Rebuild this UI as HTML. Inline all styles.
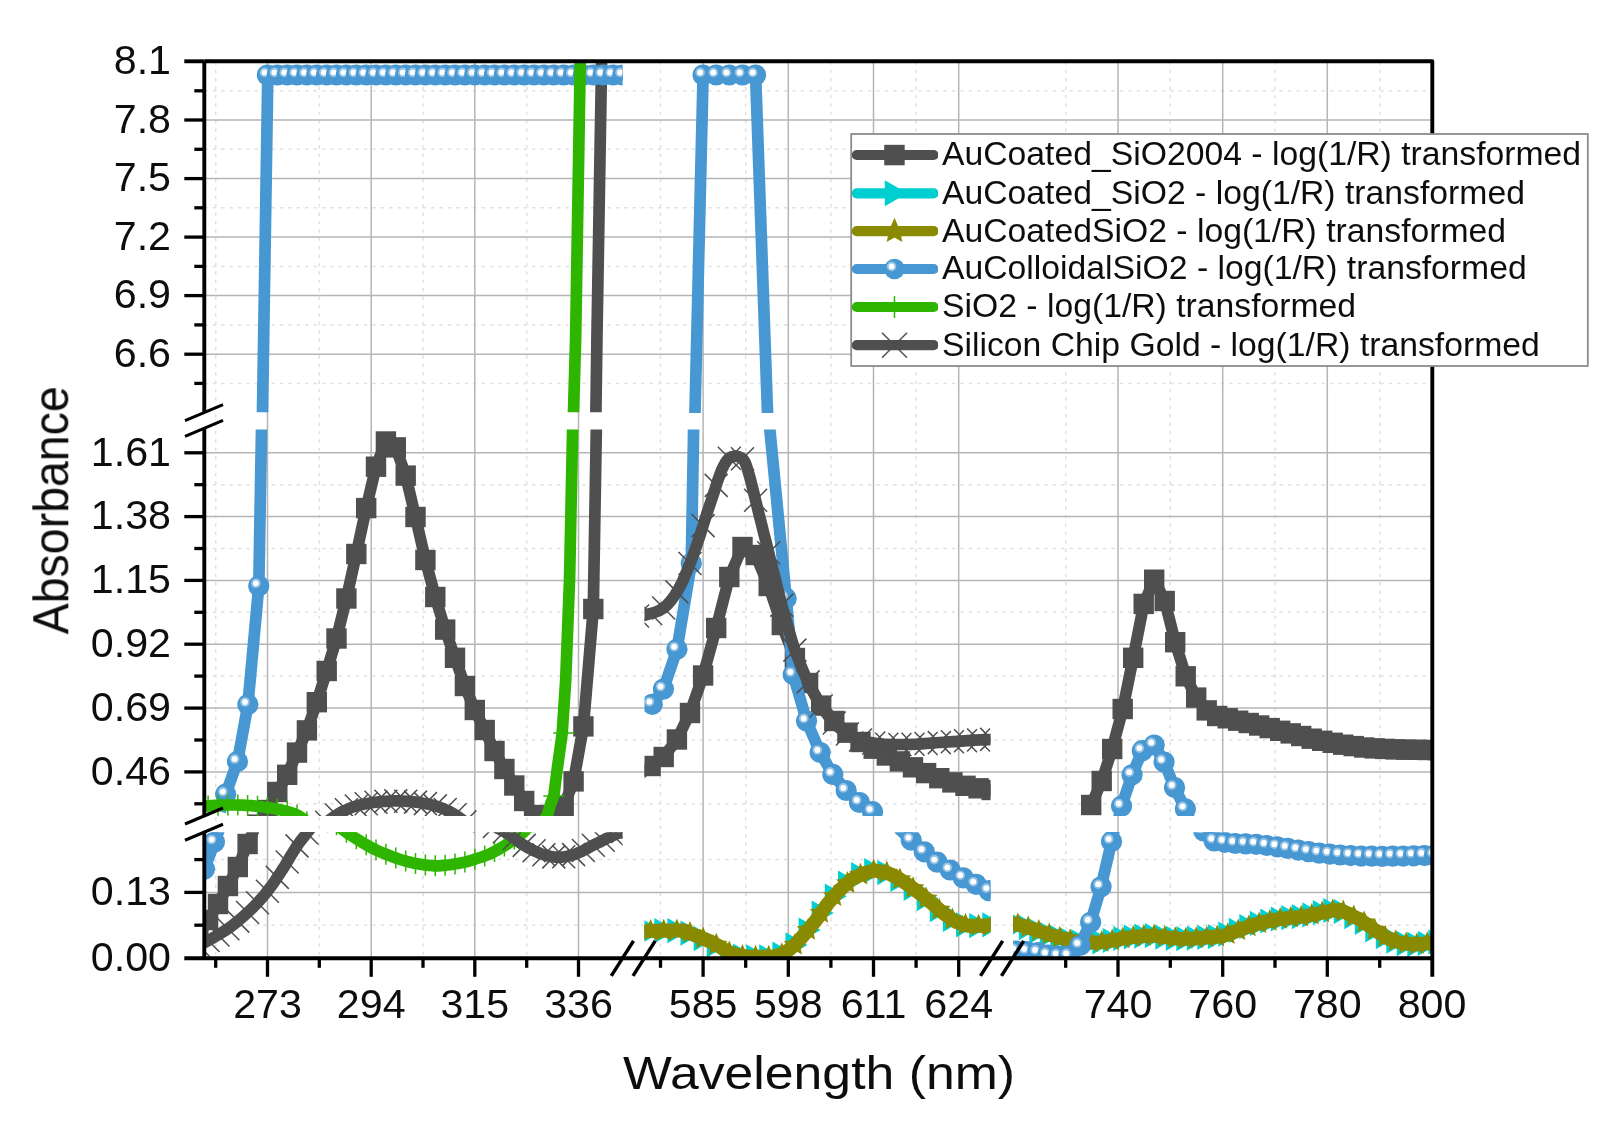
<!DOCTYPE html>
<html><head><meta charset="utf-8"><title>Absorbance vs Wavelength</title>
<style>html,body{margin:0;padding:0;background:#fff}svg{display:block}text{font-family:"Liberation Sans",Arial,sans-serif;fill:#111}</style>
</head><body>
<svg width="1620" height="1128" viewBox="0 0 1620 1128">
<rect width="1620" height="1128" fill="#fff"/>
<defs>
<clipPath id="c00"><rect x="205.5" y="63.0" width="417.1" height="349.3"/></clipPath>
<clipPath id="c01"><rect x="205.5" y="429.6" width="417.1" height="386.5"/></clipPath>
<clipPath id="c02"><rect x="205.5" y="832.2" width="417.1" height="124.8"/></clipPath>
<clipPath id="c10"><rect x="644.5" y="63.0" width="346.1" height="349.3"/></clipPath>
<clipPath id="c11"><rect x="644.5" y="429.6" width="346.1" height="386.5"/></clipPath>
<clipPath id="c12"><rect x="644.5" y="832.2" width="346.1" height="124.8"/></clipPath>
<clipPath id="c20"><rect x="1013.0" y="63.0" width="418" height="349.3"/></clipPath>
<clipPath id="c21"><rect x="1013.0" y="429.6" width="418" height="386.5"/></clipPath>
<clipPath id="c22"><rect x="1013.0" y="832.2" width="418" height="124.8"/></clipPath>
<filter id="bl" x="-5%" y="-5%" width="110%" height="110%"><feGaussianBlur stdDeviation="0.5"/></filter>
<filter id="gb" filterUnits="userSpaceOnUse" x="0" y="0" width="1620" height="1128"><feGaussianBlur stdDeviation="0.45"/></filter>
</defs>
<g filter="url(#gb)">
<g stroke="#e1e1e1" stroke-width="1.5" stroke-dasharray="3.4 5" fill="none">
<path d="M215.7 61.3V958.3"/>
<path d="M319.3 61.3V958.3"/>
<path d="M423 61.3V958.3"/>
<path d="M526.7 61.3V958.3"/>
<path d="M660.5 61.3V958.3"/>
<path d="M745.7 61.3V958.3"/>
<path d="M830.9 61.3V958.3"/>
<path d="M916.1 61.3V958.3"/>
<path d="M1065.7 61.3V958.3"/>
<path d="M1170.3 61.3V958.3"/>
<path d="M1275 61.3V958.3"/>
<path d="M1379.7 61.3V958.3"/>
<path d="M204.3 90.8H1432.3"/>
<path d="M204.3 149.3H1432.3"/>
<path d="M204.3 207.8H1432.3"/>
<path d="M204.3 266.4H1432.3"/>
<path d="M204.3 324.9H1432.3"/>
<path d="M204.3 383.4H1432.3"/>
<path d="M204.3 484.7H1432.3"/>
<path d="M204.3 548.5H1432.3"/>
<path d="M204.3 612.3H1432.3"/>
<path d="M204.3 676.1H1432.3"/>
<path d="M204.3 740H1432.3"/>
<path d="M204.3 803.8H1432.3"/>
<path d="M204.3 859.6H1432.3"/>
<path d="M204.3 925.2H1432.3"/>
</g>
<g stroke="#b5b5b5" stroke-width="1.5" fill="none">
<path d="M267.5 61.3V958.3"/>
<path d="M371.2 61.3V958.3"/>
<path d="M474.8 61.3V958.3"/>
<path d="M578.5 61.3V958.3"/>
<path d="M703.1 61.3V958.3"/>
<path d="M788.3 61.3V958.3"/>
<path d="M873.5 61.3V958.3"/>
<path d="M958.7 61.3V958.3"/>
<path d="M1118 61.3V958.3"/>
<path d="M1222.7 61.3V958.3"/>
<path d="M1327.3 61.3V958.3"/>
<path d="M204.3 120H1432.3"/>
<path d="M204.3 178.6H1432.3"/>
<path d="M204.3 237.1H1432.3"/>
<path d="M204.3 295.6H1432.3"/>
<path d="M204.3 354.2H1432.3"/>
<path d="M204.3 452.8H1432.3"/>
<path d="M204.3 516.6H1432.3"/>
<path d="M204.3 580.4H1432.3"/>
<path d="M204.3 644.2H1432.3"/>
<path d="M204.3 708.1H1432.3"/>
<path d="M204.3 771.9H1432.3"/>
<path d="M204.3 892.4H1432.3"/>
</g>
<g filter="url(#bl)">
<g clip-path="url(#c02)"><polyline points="198.3,936 208.1,920 218,904 227.9,886 237.8,867 247.6,844 257.5,821.8" fill="none" stroke="#4f4f4f" stroke-width="11.7" stroke-linejoin="round" /><rect x="188.1" y="925.8" width="20.4" height="20.4" fill="#4f4f4f"/><rect x="197.9" y="909.8" width="20.4" height="20.4" fill="#4f4f4f"/><rect x="207.8" y="893.8" width="20.4" height="20.4" fill="#4f4f4f"/><rect x="217.7" y="875.8" width="20.4" height="20.4" fill="#4f4f4f"/><rect x="227.6" y="856.8" width="20.4" height="20.4" fill="#4f4f4f"/><rect x="237.4" y="833.8" width="20.4" height="20.4" fill="#4f4f4f"/><rect x="247.3" y="811.6" width="20.4" height="20.4" fill="#4f4f4f"/></g>
<g clip-path="url(#c01)"><polyline points="257.5,824.6 267.4,810 277.3,792 287.2,774.8 297,752.6 306.9,730.4 316.8,702.2 326.7,671 336.5,638.5 346.4,598.5 356.3,554 366.2,508.1 376,466.7 385.9,441.5 395.8,447.4 405.7,475.6 415.5,517 425.4,560 435.3,597 445.2,629.6 455,657.8 464.9,686 474.8,710 484.7,730 494.5,751 504.4,769 514.3,785.5 524.2,801 534.1,815 543.9,822 553.8,818 563.7,806 573.6,781.4 583.4,726.4 593.3,609 596.3,430 596.8,405" fill="none" stroke="#4f4f4f" stroke-width="11.7" stroke-linejoin="round" /><rect x="247.3" y="814.4" width="20.4" height="20.4" fill="#4f4f4f"/><rect x="257.2" y="799.8" width="20.4" height="20.4" fill="#4f4f4f"/><rect x="267.1" y="781.8" width="20.4" height="20.4" fill="#4f4f4f"/><rect x="277" y="764.6" width="20.4" height="20.4" fill="#4f4f4f"/><rect x="286.8" y="742.4" width="20.4" height="20.4" fill="#4f4f4f"/><rect x="296.7" y="720.2" width="20.4" height="20.4" fill="#4f4f4f"/><rect x="306.6" y="692" width="20.4" height="20.4" fill="#4f4f4f"/><rect x="316.5" y="660.8" width="20.4" height="20.4" fill="#4f4f4f"/><rect x="326.3" y="628.3" width="20.4" height="20.4" fill="#4f4f4f"/><rect x="336.2" y="588.3" width="20.4" height="20.4" fill="#4f4f4f"/><rect x="346.1" y="543.8" width="20.4" height="20.4" fill="#4f4f4f"/><rect x="356" y="497.9" width="20.4" height="20.4" fill="#4f4f4f"/><rect x="365.8" y="456.5" width="20.4" height="20.4" fill="#4f4f4f"/><rect x="375.7" y="431.3" width="20.4" height="20.4" fill="#4f4f4f"/><rect x="385.6" y="437.2" width="20.4" height="20.4" fill="#4f4f4f"/><rect x="395.5" y="465.4" width="20.4" height="20.4" fill="#4f4f4f"/><rect x="405.3" y="506.8" width="20.4" height="20.4" fill="#4f4f4f"/><rect x="415.2" y="549.8" width="20.4" height="20.4" fill="#4f4f4f"/><rect x="425.1" y="586.8" width="20.4" height="20.4" fill="#4f4f4f"/><rect x="435" y="619.4" width="20.4" height="20.4" fill="#4f4f4f"/><rect x="444.8" y="647.6" width="20.4" height="20.4" fill="#4f4f4f"/><rect x="454.7" y="675.8" width="20.4" height="20.4" fill="#4f4f4f"/><rect x="464.6" y="699.8" width="20.4" height="20.4" fill="#4f4f4f"/><rect x="474.5" y="719.8" width="20.4" height="20.4" fill="#4f4f4f"/><rect x="484.3" y="740.8" width="20.4" height="20.4" fill="#4f4f4f"/><rect x="494.2" y="758.8" width="20.4" height="20.4" fill="#4f4f4f"/><rect x="504.1" y="775.3" width="20.4" height="20.4" fill="#4f4f4f"/><rect x="514" y="790.8" width="20.4" height="20.4" fill="#4f4f4f"/><rect x="523.9" y="804.8" width="20.4" height="20.4" fill="#4f4f4f"/><rect x="533.7" y="811.8" width="20.4" height="20.4" fill="#4f4f4f"/><rect x="543.6" y="807.8" width="20.4" height="20.4" fill="#4f4f4f"/><rect x="553.5" y="795.8" width="20.4" height="20.4" fill="#4f4f4f"/><rect x="563.4" y="771.2" width="20.4" height="20.4" fill="#4f4f4f"/><rect x="573.2" y="716.2" width="20.4" height="20.4" fill="#4f4f4f"/><rect x="583.1" y="598.8" width="20.4" height="20.4" fill="#4f4f4f"/></g>
<g clip-path="url(#c00)"><polyline points="595.6,435 595.9,412 596.9,340 601.2,84.4 601.7,50" fill="none" stroke="#4f4f4f" stroke-width="11.7" stroke-linejoin="round" /></g>
<g clip-path="url(#c11)"><polyline points="637.5,776 650.6,766 663.7,757 676.9,739.5 690,713 703.1,675.5 716.2,628 729.3,577 742.5,547 755.6,555 768.7,586 781.8,625 794.9,658 808.1,683 821.2,705.6 834.3,721 847.4,732.7 860.5,742 873.7,748.7 886.8,755.5 899.9,761.4 913,767.3 926.1,773.1 939.3,778.2 952.4,782.4 965.5,785.8 978.6,788.3 991.7,790 1004.9,791.5" fill="none" stroke="#4f4f4f" stroke-width="11.7" stroke-linejoin="round" /><rect x="640.4" y="755.8" width="20.4" height="20.4" fill="#4f4f4f"/><rect x="653.5" y="746.8" width="20.4" height="20.4" fill="#4f4f4f"/><rect x="666.7" y="729.3" width="20.4" height="20.4" fill="#4f4f4f"/><rect x="679.8" y="702.8" width="20.4" height="20.4" fill="#4f4f4f"/><rect x="692.9" y="665.3" width="20.4" height="20.4" fill="#4f4f4f"/><rect x="706" y="617.8" width="20.4" height="20.4" fill="#4f4f4f"/><rect x="719.1" y="566.8" width="20.4" height="20.4" fill="#4f4f4f"/><rect x="732.3" y="536.8" width="20.4" height="20.4" fill="#4f4f4f"/><rect x="745.4" y="544.8" width="20.4" height="20.4" fill="#4f4f4f"/><rect x="758.5" y="575.8" width="20.4" height="20.4" fill="#4f4f4f"/><rect x="771.6" y="614.8" width="20.4" height="20.4" fill="#4f4f4f"/><rect x="784.7" y="647.8" width="20.4" height="20.4" fill="#4f4f4f"/><rect x="797.9" y="672.8" width="20.4" height="20.4" fill="#4f4f4f"/><rect x="811" y="695.4" width="20.4" height="20.4" fill="#4f4f4f"/><rect x="824.1" y="710.8" width="20.4" height="20.4" fill="#4f4f4f"/><rect x="837.2" y="722.5" width="20.4" height="20.4" fill="#4f4f4f"/><rect x="850.3" y="731.8" width="20.4" height="20.4" fill="#4f4f4f"/><rect x="863.5" y="738.5" width="20.4" height="20.4" fill="#4f4f4f"/><rect x="876.6" y="745.3" width="20.4" height="20.4" fill="#4f4f4f"/><rect x="889.7" y="751.2" width="20.4" height="20.4" fill="#4f4f4f"/><rect x="902.8" y="757.1" width="20.4" height="20.4" fill="#4f4f4f"/><rect x="915.9" y="762.9" width="20.4" height="20.4" fill="#4f4f4f"/><rect x="929.1" y="768" width="20.4" height="20.4" fill="#4f4f4f"/><rect x="942.2" y="772.2" width="20.4" height="20.4" fill="#4f4f4f"/><rect x="955.3" y="775.6" width="20.4" height="20.4" fill="#4f4f4f"/><rect x="968.4" y="778.1" width="20.4" height="20.4" fill="#4f4f4f"/><rect x="981.5" y="779.8" width="20.4" height="20.4" fill="#4f4f4f"/><rect x="994.7" y="781.3" width="20.4" height="20.4" fill="#4f4f4f"/></g>
<g clip-path="url(#c21)"><polyline points="1091.2,805 1101.8,781 1112.2,749 1122.8,709 1133.2,657.8 1143.8,603.9 1154.2,579.7 1164.8,601 1175.2,642.2 1185.8,676.3 1196.2,697.6 1206.8,710.4 1217.2,716 1227.8,718.3 1238.2,720.7 1248.8,723 1259.2,725.5 1269.8,728.1 1280.2,730.8 1290.8,733.4 1301.2,736 1311.8,738.7 1322.2,740.8 1332.8,742.8 1343.2,744.7 1353.8,746.1 1364.2,747.5 1374.8,748.4 1385.2,748.9 1395.8,749.4 1406.2,749.7 1416.8,749.8 1427.2,750 1437.8,750.1" fill="none" stroke="#4f4f4f" stroke-width="11.7" stroke-linejoin="round" /><rect x="1081" y="794.8" width="20.4" height="20.4" fill="#4f4f4f"/><rect x="1091.5" y="770.8" width="20.4" height="20.4" fill="#4f4f4f"/><rect x="1102" y="738.8" width="20.4" height="20.4" fill="#4f4f4f"/><rect x="1112.5" y="698.8" width="20.4" height="20.4" fill="#4f4f4f"/><rect x="1123" y="647.6" width="20.4" height="20.4" fill="#4f4f4f"/><rect x="1133.5" y="593.7" width="20.4" height="20.4" fill="#4f4f4f"/><rect x="1144" y="569.5" width="20.4" height="20.4" fill="#4f4f4f"/><rect x="1154.5" y="590.8" width="20.4" height="20.4" fill="#4f4f4f"/><rect x="1165" y="632" width="20.4" height="20.4" fill="#4f4f4f"/><rect x="1175.5" y="666.1" width="20.4" height="20.4" fill="#4f4f4f"/><rect x="1186" y="687.4" width="20.4" height="20.4" fill="#4f4f4f"/><rect x="1196.5" y="700.2" width="20.4" height="20.4" fill="#4f4f4f"/><rect x="1207" y="705.8" width="20.4" height="20.4" fill="#4f4f4f"/><rect x="1217.5" y="708.1" width="20.4" height="20.4" fill="#4f4f4f"/><rect x="1228" y="710.5" width="20.4" height="20.4" fill="#4f4f4f"/><rect x="1238.5" y="712.8" width="20.4" height="20.4" fill="#4f4f4f"/><rect x="1249" y="715.3" width="20.4" height="20.4" fill="#4f4f4f"/><rect x="1259.5" y="717.9" width="20.4" height="20.4" fill="#4f4f4f"/><rect x="1270" y="720.6" width="20.4" height="20.4" fill="#4f4f4f"/><rect x="1280.5" y="723.2" width="20.4" height="20.4" fill="#4f4f4f"/><rect x="1291" y="725.8" width="20.4" height="20.4" fill="#4f4f4f"/><rect x="1301.5" y="728.5" width="20.4" height="20.4" fill="#4f4f4f"/><rect x="1312" y="730.6" width="20.4" height="20.4" fill="#4f4f4f"/><rect x="1322.5" y="732.6" width="20.4" height="20.4" fill="#4f4f4f"/><rect x="1333" y="734.5" width="20.4" height="20.4" fill="#4f4f4f"/><rect x="1343.5" y="735.9" width="20.4" height="20.4" fill="#4f4f4f"/><rect x="1354" y="737.3" width="20.4" height="20.4" fill="#4f4f4f"/><rect x="1364.5" y="738.2" width="20.4" height="20.4" fill="#4f4f4f"/><rect x="1375" y="738.7" width="20.4" height="20.4" fill="#4f4f4f"/><rect x="1385.5" y="739.2" width="20.4" height="20.4" fill="#4f4f4f"/><rect x="1396" y="739.5" width="20.4" height="20.4" fill="#4f4f4f"/><rect x="1406.5" y="739.6" width="20.4" height="20.4" fill="#4f4f4f"/><rect x="1417" y="739.8" width="20.4" height="20.4" fill="#4f4f4f"/><rect x="1427.5" y="739.9" width="20.4" height="20.4" fill="#4f4f4f"/></g>
<g clip-path="url(#c12)"><polyline points="637,931.3 645.6,931.1 667.8,930.6 684.4,930.6 695.6,935.6 706.7,940 717.8,945.6 728.9,952.3 740,955.8 751,956.8 773,956.8 784.4,953.4 795.6,944.4 806.7,931.7 815.9,920.4 827.6,903.9 839.3,890.5 851,879.9 862.8,873.5 874.5,870.5 886.2,872.3 898,878.1 909.7,885.8 921.4,894.6 933.2,904.5 944.9,914.5 956.6,922.1 968.3,925.7 980,925.7 990.6,925 1000,924.5" fill="none" stroke="#00cfd2" stroke-width="11.7" stroke-linejoin="round" /><path d="M628 918.7L650.1 931.3L628 943.9Z" fill="#00cfd2"/><path d="M641.2 918.4L663.2 931L641.2 943.6Z" fill="#00cfd2"/><path d="M654.3 918.1L676.3 930.7L654.3 943.3Z" fill="#00cfd2"/><path d="M667.4 918L689.5 930.6L667.4 943.2Z" fill="#00cfd2"/><path d="M680.5 920.5L702.6 933.1L680.5 945.7Z" fill="#00cfd2"/><path d="M693.6 926L715.7 938.6L693.6 951.2Z" fill="#00cfd2"/><path d="M706.8 932.2L728.8 944.8L706.8 957.4Z" fill="#00cfd2"/><path d="M719.9 939.8L741.9 952.4L719.9 965Z" fill="#00cfd2"/><path d="M733 943.4L755.1 956L733 968.6Z" fill="#00cfd2"/><path d="M746.1 944.2L768.2 956.8L746.1 969.4Z" fill="#00cfd2"/><path d="M759.2 944.2L781.3 956.8L759.2 969.4Z" fill="#00cfd2"/><path d="M772.4 941.6L794.4 954.2L772.4 966.8Z" fill="#00cfd2"/><path d="M785.5 932.3L807.5 944.9L785.5 957.5Z" fill="#00cfd2"/><path d="M798.6 917.4L820.7 930L798.6 942.6Z" fill="#00cfd2"/><path d="M811.7 900.4L833.8 913L811.7 925.6Z" fill="#00cfd2"/><path d="M824.8 883.6L846.9 896.2L824.8 908.8Z" fill="#00cfd2"/><path d="M838 870.5L860 883.1L838 895.7Z" fill="#00cfd2"/><path d="M851.1 862.1L873.1 874.7L851.1 887.3Z" fill="#00cfd2"/><path d="M864.2 858.1L886.3 870.7L864.2 883.3Z" fill="#00cfd2"/><path d="M877.3 860L899.4 872.6L877.3 885.2Z" fill="#00cfd2"/><path d="M890.4 866.8L912.5 879.4L890.4 892Z" fill="#00cfd2"/><path d="M903.6 875.7L925.6 888.3L903.6 900.9Z" fill="#00cfd2"/><path d="M916.7 886L938.7 898.6L916.7 911.2Z" fill="#00cfd2"/><path d="M929.8 897.1L951.9 909.7L929.8 922.3Z" fill="#00cfd2"/><path d="M942.9 906.8L965 919.4L942.9 932Z" fill="#00cfd2"/><path d="M956 912.2L978.1 924.8L956 937.4Z" fill="#00cfd2"/><path d="M969.2 913.1L991.2 925.7L969.2 938.3Z" fill="#00cfd2"/><path d="M982.3 912.3L1004.3 924.9L982.3 937.5Z" fill="#00cfd2"/><path d="M995.4 911.6L1017.5 924.2L995.4 936.8Z" fill="#00cfd2"/></g>
<g clip-path="url(#c12)"><polyline points="637,931.3 645.6,931.1 667.8,930.6 684.4,930.6 695.6,935.6 706.7,940 717.8,945.6 728.9,952.3 740,955.8 751,956.8 773,956.8 784.4,953.4 795.6,944.4 806.7,931.7 815.9,920.4 827.6,903.9 839.3,890.5 851,879.9 862.8,873.5 874.5,870.5 886.2,872.3 898,878.1 909.7,885.8 921.4,894.6 933.2,904.5 944.9,914.5 956.6,922.1 968.3,925.7 980,925.7 990.6,925 1000,924.5" fill="none" stroke="#8a8a00" stroke-width="14" stroke-linejoin="round" /><polygon points="637.5,919.3 640.7,926.8 648.9,927.6 642.7,933 644.6,941 637.5,936.8 630.4,941 632.3,933 626.1,927.6 634.3,926.8" fill="#8a8a00"/><polygon points="650.6,919 653.9,926.5 662,927.3 655.9,932.7 657.7,940.7 650.6,936.5 643.6,940.7 645.4,932.7 639.2,927.3 647.4,926.5" fill="#8a8a00"/><polygon points="663.7,918.7 667,926.2 675.2,927 669,932.4 670.8,940.4 663.7,936.2 656.7,940.4 658.5,932.4 652.3,927 660.5,926.2" fill="#8a8a00"/><polygon points="676.9,918.6 680.1,926.1 688.3,926.9 682.1,932.3 683.9,940.3 676.9,936.1 669.8,940.3 671.6,932.3 665.4,926.9 673.6,926.1" fill="#8a8a00"/><polygon points="690,921.1 693.2,928.6 701.4,929.4 695.2,934.8 697,942.8 690,938.6 682.9,942.8 684.7,934.8 678.6,929.4 686.7,928.6" fill="#8a8a00"/><polygon points="703.1,926.6 706.3,934.1 714.5,934.9 708.3,940.3 710.2,948.3 703.1,944.1 696,948.3 697.9,940.3 691.7,934.9 699.9,934.1" fill="#8a8a00"/><polygon points="716.2,932.8 719.5,940.3 727.6,941.1 721.5,946.5 723.3,954.5 716.2,950.3 709.2,954.5 711,946.5 704.8,941.1 713,940.3" fill="#8a8a00"/><polygon points="729.3,940.4 732.6,948 740.8,948.7 734.6,954.1 736.4,962.1 729.3,958 722.3,962.1 724.1,954.1 717.9,948.7 726.1,948" fill="#8a8a00"/><polygon points="742.5,944 745.7,951.6 753.9,952.3 747.7,957.7 749.5,965.7 742.5,961.5 735.4,965.7 737.2,957.7 731,952.3 739.2,951.6" fill="#8a8a00"/><polygon points="755.6,944.8 758.8,952.3 767,953.1 760.8,958.5 762.6,966.5 755.6,962.3 748.5,966.5 750.3,958.5 744.2,953.1 752.3,952.3" fill="#8a8a00"/><polygon points="768.7,944.8 771.9,952.3 780.1,953.1 773.9,958.5 775.8,966.5 768.7,962.3 761.6,966.5 763.5,958.5 757.3,953.1 765.5,952.3" fill="#8a8a00"/><polygon points="781.8,942.2 785.1,949.7 793.2,950.5 787.1,955.9 788.9,963.9 781.8,959.7 774.8,963.9 776.6,955.9 770.4,950.5 778.6,949.7" fill="#8a8a00"/><polygon points="794.9,932.9 798.2,940.5 806.4,941.2 800.2,946.6 802,954.6 794.9,950.5 787.9,954.6 789.7,946.6 783.5,941.2 791.7,940.5" fill="#8a8a00"/><polygon points="808.1,918 811.3,925.6 819.5,926.3 813.3,931.7 815.1,939.7 808.1,935.5 801,939.7 802.8,931.7 796.6,926.3 804.8,925.6" fill="#8a8a00"/><polygon points="821.2,901 824.4,908.5 832.6,909.2 826.4,914.7 828.2,922.7 821.2,918.5 814.1,922.7 815.9,914.7 809.8,909.2 817.9,908.5" fill="#8a8a00"/><polygon points="834.3,884.2 837.5,891.8 845.7,892.5 839.5,897.9 841.4,905.9 834.3,901.7 827.2,905.9 829.1,897.9 822.9,892.5 831.1,891.8" fill="#8a8a00"/><polygon points="847.4,871.1 850.7,878.7 858.8,879.4 852.7,884.8 854.5,892.9 847.4,888.7 840.4,892.9 842.2,884.8 836,879.4 844.2,878.7" fill="#8a8a00"/><polygon points="860.5,862.7 863.8,870.3 872,871 865.8,876.4 867.6,884.4 860.5,880.2 853.5,884.4 855.3,876.4 849.1,871 857.3,870.3" fill="#8a8a00"/><polygon points="873.7,858.7 876.9,866.2 885.1,867 878.9,872.4 880.7,880.4 873.7,876.2 866.6,880.4 868.4,872.4 862.2,867 870.4,866.2" fill="#8a8a00"/><polygon points="886.8,860.6 890,868.1 898.2,868.9 892,874.3 893.8,882.3 886.8,878.1 879.7,882.3 881.5,874.3 875.4,868.9 883.5,868.1" fill="#8a8a00"/><polygon points="899.9,867.4 903.1,874.9 911.3,875.6 905.1,881.1 907,889.1 899.9,884.9 892.8,889.1 894.7,881.1 888.5,875.6 896.7,874.9" fill="#8a8a00"/><polygon points="913,876.3 916.3,883.8 924.4,884.6 918.3,890 920.1,898 913,893.8 906,898 907.8,890 901.6,884.6 909.8,883.8" fill="#8a8a00"/><polygon points="926.1,886.6 929.4,894.1 937.6,894.9 931.4,900.3 933.2,908.3 926.1,904.1 919.1,908.3 920.9,900.3 914.7,894.9 922.9,894.1" fill="#8a8a00"/><polygon points="939.3,897.7 942.5,905.2 950.7,906 944.5,911.4 946.3,919.4 939.3,915.2 932.2,919.4 934,911.4 927.8,906 936,905.2" fill="#8a8a00"/><polygon points="952.4,907.4 955.6,914.9 963.8,915.7 957.6,921.1 959.4,929.1 952.4,924.9 945.3,929.1 947.1,921.1 941,915.7 949.1,914.9" fill="#8a8a00"/><polygon points="965.5,912.8 968.7,920.4 976.9,921.1 970.7,926.5 972.6,934.5 965.5,930.4 958.4,934.5 960.3,926.5 954.1,921.1 962.3,920.4" fill="#8a8a00"/><polygon points="978.6,913.7 981.9,921.2 990,922 983.9,927.4 985.7,935.4 978.6,931.2 971.6,935.4 973.4,927.4 967.2,922 975.4,921.2" fill="#8a8a00"/><polygon points="991.7,912.9 995,920.5 1003.2,921.2 997,926.6 998.8,934.6 991.7,930.5 984.7,934.6 986.5,926.6 980.3,921.2 988.5,920.5" fill="#8a8a00"/><polygon points="1004.9,912.2 1008.1,919.8 1016.3,920.5 1010.1,925.9 1011.9,933.9 1004.9,929.8 997.8,933.9 999.6,925.9 993.4,920.5 1001.6,919.8" fill="#8a8a00"/></g>
<g clip-path="url(#c22)"><polyline points="1003,921 1015.9,924 1032.2,928.8 1045.7,933.5 1059.3,937.6 1070.2,940.3 1085,942.5 1100,942.3 1113.6,940.3 1127.2,937.6 1140.8,936.2 1154.4,935.6 1168,937.6 1181.5,938.9 1195.1,938.3 1208.7,937.2 1221.9,936.3 1235.8,931.3 1249.7,926.1 1263.6,922.2 1277.5,919.4 1291.4,917.6 1305.3,916.4 1319.2,913.2 1333.1,910.4 1340,910 1347,913.2 1360.8,920.1 1374.7,929.9 1388.6,938.9 1402.5,943.3 1416.4,944.4 1427.5,943.3 1445,941" fill="none" stroke="#00cfd2" stroke-width="11.7" stroke-linejoin="round" /><path d="M997.8 909.4L1019.9 922L997.8 934.6Z" fill="#00cfd2"/><path d="M1008.3 911.9L1030.3 924.5L1008.3 937.1Z" fill="#00cfd2"/><path d="M1018.8 915L1040.8 927.6L1018.8 940.2Z" fill="#00cfd2"/><path d="M1029.3 918.5L1051.3 931.1L1029.3 943.7Z" fill="#00cfd2"/><path d="M1039.8 922L1061.8 934.6L1039.8 947.2Z" fill="#00cfd2"/><path d="M1050.3 925.1L1072.3 937.7L1050.3 950.3Z" fill="#00cfd2"/><path d="M1060.8 927.7L1082.8 940.3L1060.8 952.9Z" fill="#00cfd2"/><path d="M1071.3 929.3L1093.3 941.9L1071.3 954.5Z" fill="#00cfd2"/><path d="M1081.8 929.8L1103.8 942.4L1081.8 955Z" fill="#00cfd2"/><path d="M1092.3 929.4L1114.3 942L1092.3 954.6Z" fill="#00cfd2"/><path d="M1102.8 927.9L1124.8 940.5L1102.8 953.1Z" fill="#00cfd2"/><path d="M1113.3 925.9L1135.3 938.5L1113.3 951.1Z" fill="#00cfd2"/><path d="M1123.8 924.4L1145.8 937L1123.8 949.6Z" fill="#00cfd2"/><path d="M1134.3 923.5L1156.3 936.1L1134.3 948.7Z" fill="#00cfd2"/><path d="M1144.8 923L1166.8 935.6L1144.8 948.2Z" fill="#00cfd2"/><path d="M1155.3 924.5L1177.3 937.1L1155.3 949.7Z" fill="#00cfd2"/><path d="M1165.8 925.7L1187.8 938.3L1165.8 950.9Z" fill="#00cfd2"/><path d="M1176.3 926.1L1198.3 938.7L1176.3 951.3Z" fill="#00cfd2"/><path d="M1186.8 925.6L1208.8 938.2L1186.8 950.8Z" fill="#00cfd2"/><path d="M1197.3 924.8L1219.3 937.4L1197.3 950Z" fill="#00cfd2"/><path d="M1207.8 924L1229.8 936.6L1207.8 949.2Z" fill="#00cfd2"/><path d="M1218.3 921.6L1240.3 934.2L1218.3 946.8Z" fill="#00cfd2"/><path d="M1228.8 917.8L1250.8 930.4L1228.8 943Z" fill="#00cfd2"/><path d="M1239.3 913.9L1261.3 926.5L1239.3 939.1Z" fill="#00cfd2"/><path d="M1249.8 910.8L1271.8 923.4L1249.8 936Z" fill="#00cfd2"/><path d="M1260.3 908.4L1282.3 921L1260.3 933.6Z" fill="#00cfd2"/><path d="M1270.8 906.4L1292.8 919L1270.8 931.6Z" fill="#00cfd2"/><path d="M1281.3 905.1L1303.3 917.7L1281.3 930.3Z" fill="#00cfd2"/><path d="M1291.8 904.1L1313.8 916.7L1291.8 929.3Z" fill="#00cfd2"/><path d="M1302.3 902.3L1324.3 914.9L1302.3 927.5Z" fill="#00cfd2"/><path d="M1312.8 900L1334.8 912.6L1312.8 925.2Z" fill="#00cfd2"/><path d="M1323.3 897.9L1345.3 910.5L1323.3 923.1Z" fill="#00cfd2"/><path d="M1333.8 898.9L1355.8 911.5L1333.8 924.1Z" fill="#00cfd2"/><path d="M1344.3 904L1366.3 916.6L1344.3 929.2Z" fill="#00cfd2"/><path d="M1354.8 909.9L1376.8 922.5L1354.8 935.1Z" fill="#00cfd2"/><path d="M1365.3 917.3L1387.3 929.9L1365.3 942.5Z" fill="#00cfd2"/><path d="M1375.8 924.1L1397.8 936.7L1375.8 949.3Z" fill="#00cfd2"/><path d="M1386.3 928.6L1408.3 941.2L1386.3 953.8Z" fill="#00cfd2"/><path d="M1396.8 931L1418.8 943.6L1396.8 956.2Z" fill="#00cfd2"/><path d="M1407.3 931.8L1429.3 944.4L1407.3 957Z" fill="#00cfd2"/><path d="M1417.8 930.7L1439.8 943.3L1417.8 955.9Z" fill="#00cfd2"/><path d="M1428.3 929.4L1450.3 942L1428.3 954.6Z" fill="#00cfd2"/></g>
<g clip-path="url(#c22)"><polyline points="1003,921 1015.9,924 1032.2,928.8 1045.7,933.5 1059.3,937.6 1070.2,940.3 1085,942.5 1100,942.3 1113.6,940.3 1127.2,937.6 1140.8,936.2 1154.4,935.6 1168,937.6 1181.5,938.9 1195.1,938.3 1208.7,937.2 1221.9,936.3 1235.8,931.3 1249.7,926.1 1263.6,922.2 1277.5,919.4 1291.4,917.6 1305.3,916.4 1319.2,913.2 1333.1,910.4 1340,910 1347,913.2 1360.8,920.1 1374.7,929.9 1388.6,938.9 1402.5,943.3 1416.4,944.4 1427.5,943.3 1445,941" fill="none" stroke="#8a8a00" stroke-width="14" stroke-linejoin="round" /><polygon points="1007.2,910 1010.5,917.5 1018.7,918.3 1012.5,923.7 1014.3,931.7 1007.2,927.5 1000.2,931.7 1002,923.7 995.8,918.3 1004,917.5" fill="#8a8a00"/><polygon points="1017.8,912.5 1021,920.1 1029.2,920.8 1023,926.3 1024.8,934.3 1017.8,930.1 1010.7,934.3 1012.5,926.3 1006.3,920.8 1014.5,920.1" fill="#8a8a00"/><polygon points="1028.2,915.6 1031.5,923.2 1039.7,923.9 1033.5,929.3 1035.3,937.3 1028.2,933.2 1021.2,937.3 1023,929.3 1016.8,923.9 1025,923.2" fill="#8a8a00"/><polygon points="1038.8,919.1 1042,926.6 1050.2,927.4 1044,932.8 1045.8,940.8 1038.8,936.6 1031.7,940.8 1033.5,932.8 1027.3,927.4 1035.5,926.6" fill="#8a8a00"/><polygon points="1049.2,922.6 1052.5,930.1 1060.7,930.9 1054.5,936.3 1056.3,944.3 1049.2,940.1 1042.2,944.3 1044,936.3 1037.8,930.9 1046,930.1" fill="#8a8a00"/><polygon points="1059.8,925.7 1063,933.2 1071.2,934 1065,939.4 1066.8,947.4 1059.8,943.2 1052.7,947.4 1054.5,939.4 1048.3,934 1056.5,933.2" fill="#8a8a00"/><polygon points="1070.2,928.3 1073.5,935.8 1081.7,936.6 1075.5,942 1077.3,950 1070.2,945.8 1063.2,950 1065,942 1058.8,936.6 1067,935.8" fill="#8a8a00"/><polygon points="1080.8,929.9 1084,937.4 1092.2,938.2 1086,943.6 1087.8,951.6 1080.8,947.4 1073.7,951.6 1075.5,943.6 1069.3,938.2 1077.5,937.4" fill="#8a8a00"/><polygon points="1091.2,930.4 1094.5,938 1102.7,938.7 1096.5,944.1 1098.3,952.1 1091.2,947.9 1084.2,952.1 1086,944.1 1079.8,938.7 1088,938" fill="#8a8a00"/><polygon points="1101.8,930 1105,937.6 1113.2,938.3 1107,943.7 1108.8,951.8 1101.8,947.6 1094.7,951.8 1096.5,943.7 1090.3,938.3 1098.5,937.6" fill="#8a8a00"/><polygon points="1112.2,928.5 1115.5,936 1123.7,936.8 1117.5,942.2 1119.3,950.2 1112.2,946 1105.2,950.2 1107,942.2 1100.8,936.8 1109,936" fill="#8a8a00"/><polygon points="1122.8,926.5 1126,934 1134.2,934.8 1128,940.2 1129.8,948.2 1122.8,944 1115.7,948.2 1117.5,940.2 1111.3,934.8 1119.5,934" fill="#8a8a00"/><polygon points="1133.2,925 1136.5,932.5 1144.7,933.3 1138.5,938.7 1140.3,946.7 1133.2,942.5 1126.2,946.7 1128,938.7 1121.8,933.3 1130,932.5" fill="#8a8a00"/><polygon points="1143.8,924.1 1147,931.6 1155.2,932.4 1149,937.8 1150.8,945.8 1143.8,941.6 1136.7,945.8 1138.5,937.8 1132.3,932.4 1140.5,931.6" fill="#8a8a00"/><polygon points="1154.2,923.6 1157.5,931.1 1165.7,931.9 1159.5,937.3 1161.3,945.3 1154.2,941.1 1147.2,945.3 1149,937.3 1142.8,931.9 1151,931.1" fill="#8a8a00"/><polygon points="1164.8,925.1 1168,932.7 1176.2,933.4 1170,938.8 1171.8,946.8 1164.8,942.6 1157.7,946.8 1159.5,938.8 1153.3,933.4 1161.5,932.7" fill="#8a8a00"/><polygon points="1175.2,926.3 1178.5,933.8 1186.7,934.6 1180.5,940 1182.3,948 1175.2,943.8 1168.2,948 1170,940 1163.8,934.6 1172,933.8" fill="#8a8a00"/><polygon points="1185.8,926.7 1189,934.2 1197.2,935 1191,940.4 1192.8,948.4 1185.8,944.2 1178.7,948.4 1180.5,940.4 1174.3,935 1182.5,934.2" fill="#8a8a00"/><polygon points="1196.2,926.2 1199.5,933.7 1207.7,934.5 1201.5,939.9 1203.3,947.9 1196.2,943.7 1189.2,947.9 1191,939.9 1184.8,934.5 1193,933.7" fill="#8a8a00"/><polygon points="1206.8,925.4 1210,932.9 1218.2,933.6 1212,939.1 1213.8,947.1 1206.8,942.9 1199.7,947.1 1201.5,939.1 1195.3,933.6 1203.5,932.9" fill="#8a8a00"/><polygon points="1217.2,924.6 1220.5,932.2 1228.7,932.9 1222.5,938.3 1224.3,946.3 1217.2,942.1 1210.2,946.3 1212,938.3 1205.8,932.9 1214,932.2" fill="#8a8a00"/><polygon points="1227.8,922.2 1231,929.7 1239.2,930.5 1233,935.9 1234.8,943.9 1227.8,939.7 1220.7,943.9 1222.5,935.9 1216.3,930.5 1224.5,929.7" fill="#8a8a00"/><polygon points="1238.2,918.4 1241.5,925.9 1249.7,926.7 1243.5,932.1 1245.3,940.1 1238.2,935.9 1231.2,940.1 1233,932.1 1226.8,926.7 1235,925.9" fill="#8a8a00"/><polygon points="1248.8,914.5 1252,922 1260.2,922.7 1254,928.2 1255.8,936.2 1248.8,932 1241.7,936.2 1243.5,928.2 1237.3,922.7 1245.5,922" fill="#8a8a00"/><polygon points="1259.2,911.4 1262.5,919 1270.7,919.7 1264.5,925.1 1266.3,933.1 1259.2,928.9 1252.2,933.1 1254,925.1 1247.8,919.7 1256,919" fill="#8a8a00"/><polygon points="1269.8,909 1273,916.5 1281.2,917.3 1275,922.7 1276.8,930.7 1269.8,926.5 1262.7,930.7 1264.5,922.7 1258.3,917.3 1266.5,916.5" fill="#8a8a00"/><polygon points="1280.2,907 1283.5,914.6 1291.7,915.3 1285.5,920.7 1287.3,928.8 1280.2,924.6 1273.2,928.8 1275,920.7 1268.8,915.3 1277,914.6" fill="#8a8a00"/><polygon points="1290.8,905.7 1294,913.2 1302.2,914 1296,919.4 1297.8,927.4 1290.8,923.2 1283.7,927.4 1285.5,919.4 1279.3,914 1287.5,913.2" fill="#8a8a00"/><polygon points="1301.2,904.7 1304.5,912.3 1312.7,913 1306.5,918.5 1308.3,926.5 1301.2,922.3 1294.2,926.5 1296,918.5 1289.8,913 1298,912.3" fill="#8a8a00"/><polygon points="1311.8,902.9 1315,910.4 1323.2,911.2 1317,916.6 1318.8,924.6 1311.8,920.4 1304.7,924.6 1306.5,916.6 1300.3,911.2 1308.5,910.4" fill="#8a8a00"/><polygon points="1322.2,900.6 1325.5,908.1 1333.7,908.9 1327.5,914.3 1329.3,922.3 1322.2,918.1 1315.2,922.3 1317,914.3 1310.8,908.9 1319,908.1" fill="#8a8a00"/><polygon points="1332.8,898.5 1336,906 1344.2,906.8 1338,912.2 1339.8,920.2 1332.8,916 1325.7,920.2 1327.5,912.2 1321.3,906.8 1329.5,906" fill="#8a8a00"/><polygon points="1343.2,899.5 1346.5,907 1354.7,907.8 1348.5,913.2 1350.3,921.2 1343.2,917 1336.2,921.2 1338,913.2 1331.8,907.8 1340,907" fill="#8a8a00"/><polygon points="1353.8,904.6 1357,912.1 1365.2,912.9 1359,918.3 1360.8,926.3 1353.8,922.1 1346.7,926.3 1348.5,918.3 1342.3,912.9 1350.5,912.1" fill="#8a8a00"/><polygon points="1364.2,910.5 1367.5,918.1 1375.7,918.8 1369.5,924.2 1371.3,932.2 1364.2,928.1 1357.2,932.2 1359,924.2 1352.8,918.8 1361,918.1" fill="#8a8a00"/><polygon points="1374.8,917.9 1378,925.5 1386.2,926.2 1380,931.6 1381.8,939.6 1374.8,935.5 1367.7,939.6 1369.5,931.6 1363.3,926.2 1371.5,925.5" fill="#8a8a00"/><polygon points="1385.2,924.7 1388.5,932.3 1396.7,933 1390.5,938.4 1392.3,946.4 1385.2,942.3 1378.2,946.4 1380,938.4 1373.8,933 1382,932.3" fill="#8a8a00"/><polygon points="1395.8,929.2 1399,936.7 1407.2,937.5 1401,942.9 1402.8,950.9 1395.8,946.7 1388.7,950.9 1390.5,942.9 1384.3,937.5 1392.5,936.7" fill="#8a8a00"/><polygon points="1406.2,931.6 1409.5,939.1 1417.7,939.9 1411.5,945.3 1413.3,953.3 1406.2,949.1 1399.2,953.3 1401,945.3 1394.8,939.9 1403,939.1" fill="#8a8a00"/><polygon points="1416.8,932.4 1420,939.9 1428.2,940.7 1422,946.1 1423.8,954.1 1416.8,949.9 1409.7,954.1 1411.5,946.1 1405.3,940.7 1413.5,939.9" fill="#8a8a00"/><polygon points="1427.2,931.3 1430.5,938.9 1438.7,939.6 1432.5,945 1434.3,953 1427.2,948.8 1420.2,953 1422,945 1415.8,939.6 1424,938.9" fill="#8a8a00"/><polygon points="1437.8,930 1441,937.5 1449.2,938.2 1443,943.7 1444.8,951.7 1437.8,947.5 1430.7,951.7 1432.5,943.7 1426.3,938.2 1434.5,937.5" fill="#8a8a00"/></g>
<g clip-path="url(#c02)"><polyline points="194,893.5 204.5,869.1 214.5,842.1 220.5,826.5" fill="none" stroke="#4797d3" stroke-width="11.7" stroke-linejoin="round" /><circle cx="204.5" cy="869.1" r="10.6" fill="#4797d3"/><circle cx="201.6" cy="866.5" r="4.8" fill="#fff" fill-opacity=".42"/><circle cx="201.6" cy="866.5" r="2.9" fill="#fff"/><circle cx="214.5" cy="842.1" r="10.6" fill="#4797d3"/><circle cx="211.6" cy="839.5" r="4.8" fill="#fff" fill-opacity=".42"/><circle cx="211.6" cy="839.5" r="2.9" fill="#fff"/></g>
<g clip-path="url(#c01)"><polyline points="220.2,811.6 225.7,794.2 237.5,761.6 247.9,704.6 258.8,585.9 261.5,430 262,405" fill="none" stroke="#4797d3" stroke-width="11.7" stroke-linejoin="round" /><circle cx="225.7" cy="794.2" r="10.6" fill="#4797d3"/><circle cx="222.8" cy="791.6" r="4.8" fill="#fff" fill-opacity=".42"/><circle cx="222.8" cy="791.6" r="2.9" fill="#fff"/><circle cx="237.5" cy="761.6" r="10.6" fill="#4797d3"/><circle cx="234.6" cy="759" r="4.8" fill="#fff" fill-opacity=".42"/><circle cx="234.6" cy="759" r="2.9" fill="#fff"/><circle cx="247.9" cy="704.6" r="10.6" fill="#4797d3"/><circle cx="245" cy="702" r="4.8" fill="#fff" fill-opacity=".42"/><circle cx="245" cy="702" r="2.9" fill="#fff"/><circle cx="258.8" cy="585.9" r="10.6" fill="#4797d3"/><circle cx="255.9" cy="583.3" r="4.8" fill="#fff" fill-opacity=".42"/><circle cx="255.9" cy="583.3" r="2.9" fill="#fff"/></g>
<g clip-path="url(#c00)"><polyline points="262.2,435 262.5,412 267.8,75 267.4,75 277.3,75 287.2,75 297,75 306.9,75 316.8,75 326.7,75 336.5,75 346.4,75 356.3,75 366.2,75 376,75 385.9,75 395.8,75 405.7,75 415.5,75 425.4,75 435.3,75 445.2,75 455,75 464.9,75 474.8,75 484.7,75 494.5,75 504.4,75 514.3,75 524.2,75 534.1,75 543.9,75 553.8,75 563.7,75 573.6,75 583.4,75 593.3,75 603.2,75 613.1,75 622.9,75 632.8,75" fill="none" stroke="#4797d3" stroke-width="11.7" stroke-linejoin="round" /><circle cx="267.4" cy="75" r="10.6" fill="#4797d3"/><circle cx="264.5" cy="72.4" r="4.8" fill="#fff" fill-opacity=".42"/><circle cx="264.5" cy="72.4" r="2.9" fill="#fff"/><circle cx="277.3" cy="75" r="10.6" fill="#4797d3"/><circle cx="274.4" cy="72.4" r="4.8" fill="#fff" fill-opacity=".42"/><circle cx="274.4" cy="72.4" r="2.9" fill="#fff"/><circle cx="287.2" cy="75" r="10.6" fill="#4797d3"/><circle cx="284.3" cy="72.4" r="4.8" fill="#fff" fill-opacity=".42"/><circle cx="284.3" cy="72.4" r="2.9" fill="#fff"/><circle cx="297" cy="75" r="10.6" fill="#4797d3"/><circle cx="294.1" cy="72.4" r="4.8" fill="#fff" fill-opacity=".42"/><circle cx="294.1" cy="72.4" r="2.9" fill="#fff"/><circle cx="306.9" cy="75" r="10.6" fill="#4797d3"/><circle cx="304" cy="72.4" r="4.8" fill="#fff" fill-opacity=".42"/><circle cx="304" cy="72.4" r="2.9" fill="#fff"/><circle cx="316.8" cy="75" r="10.6" fill="#4797d3"/><circle cx="313.9" cy="72.4" r="4.8" fill="#fff" fill-opacity=".42"/><circle cx="313.9" cy="72.4" r="2.9" fill="#fff"/><circle cx="326.7" cy="75" r="10.6" fill="#4797d3"/><circle cx="323.8" cy="72.4" r="4.8" fill="#fff" fill-opacity=".42"/><circle cx="323.8" cy="72.4" r="2.9" fill="#fff"/><circle cx="336.5" cy="75" r="10.6" fill="#4797d3"/><circle cx="333.6" cy="72.4" r="4.8" fill="#fff" fill-opacity=".42"/><circle cx="333.6" cy="72.4" r="2.9" fill="#fff"/><circle cx="346.4" cy="75" r="10.6" fill="#4797d3"/><circle cx="343.5" cy="72.4" r="4.8" fill="#fff" fill-opacity=".42"/><circle cx="343.5" cy="72.4" r="2.9" fill="#fff"/><circle cx="356.3" cy="75" r="10.6" fill="#4797d3"/><circle cx="353.4" cy="72.4" r="4.8" fill="#fff" fill-opacity=".42"/><circle cx="353.4" cy="72.4" r="2.9" fill="#fff"/><circle cx="366.2" cy="75" r="10.6" fill="#4797d3"/><circle cx="363.3" cy="72.4" r="4.8" fill="#fff" fill-opacity=".42"/><circle cx="363.3" cy="72.4" r="2.9" fill="#fff"/><circle cx="376" cy="75" r="10.6" fill="#4797d3"/><circle cx="373.1" cy="72.4" r="4.8" fill="#fff" fill-opacity=".42"/><circle cx="373.1" cy="72.4" r="2.9" fill="#fff"/><circle cx="385.9" cy="75" r="10.6" fill="#4797d3"/><circle cx="383" cy="72.4" r="4.8" fill="#fff" fill-opacity=".42"/><circle cx="383" cy="72.4" r="2.9" fill="#fff"/><circle cx="395.8" cy="75" r="10.6" fill="#4797d3"/><circle cx="392.9" cy="72.4" r="4.8" fill="#fff" fill-opacity=".42"/><circle cx="392.9" cy="72.4" r="2.9" fill="#fff"/><circle cx="405.7" cy="75" r="10.6" fill="#4797d3"/><circle cx="402.8" cy="72.4" r="4.8" fill="#fff" fill-opacity=".42"/><circle cx="402.8" cy="72.4" r="2.9" fill="#fff"/><circle cx="415.5" cy="75" r="10.6" fill="#4797d3"/><circle cx="412.6" cy="72.4" r="4.8" fill="#fff" fill-opacity=".42"/><circle cx="412.6" cy="72.4" r="2.9" fill="#fff"/><circle cx="425.4" cy="75" r="10.6" fill="#4797d3"/><circle cx="422.5" cy="72.4" r="4.8" fill="#fff" fill-opacity=".42"/><circle cx="422.5" cy="72.4" r="2.9" fill="#fff"/><circle cx="435.3" cy="75" r="10.6" fill="#4797d3"/><circle cx="432.4" cy="72.4" r="4.8" fill="#fff" fill-opacity=".42"/><circle cx="432.4" cy="72.4" r="2.9" fill="#fff"/><circle cx="445.2" cy="75" r="10.6" fill="#4797d3"/><circle cx="442.3" cy="72.4" r="4.8" fill="#fff" fill-opacity=".42"/><circle cx="442.3" cy="72.4" r="2.9" fill="#fff"/><circle cx="455" cy="75" r="10.6" fill="#4797d3"/><circle cx="452.1" cy="72.4" r="4.8" fill="#fff" fill-opacity=".42"/><circle cx="452.1" cy="72.4" r="2.9" fill="#fff"/><circle cx="464.9" cy="75" r="10.6" fill="#4797d3"/><circle cx="462" cy="72.4" r="4.8" fill="#fff" fill-opacity=".42"/><circle cx="462" cy="72.4" r="2.9" fill="#fff"/><circle cx="474.8" cy="75" r="10.6" fill="#4797d3"/><circle cx="471.9" cy="72.4" r="4.8" fill="#fff" fill-opacity=".42"/><circle cx="471.9" cy="72.4" r="2.9" fill="#fff"/><circle cx="484.7" cy="75" r="10.6" fill="#4797d3"/><circle cx="481.8" cy="72.4" r="4.8" fill="#fff" fill-opacity=".42"/><circle cx="481.8" cy="72.4" r="2.9" fill="#fff"/><circle cx="494.5" cy="75" r="10.6" fill="#4797d3"/><circle cx="491.6" cy="72.4" r="4.8" fill="#fff" fill-opacity=".42"/><circle cx="491.6" cy="72.4" r="2.9" fill="#fff"/><circle cx="504.4" cy="75" r="10.6" fill="#4797d3"/><circle cx="501.5" cy="72.4" r="4.8" fill="#fff" fill-opacity=".42"/><circle cx="501.5" cy="72.4" r="2.9" fill="#fff"/><circle cx="514.3" cy="75" r="10.6" fill="#4797d3"/><circle cx="511.4" cy="72.4" r="4.8" fill="#fff" fill-opacity=".42"/><circle cx="511.4" cy="72.4" r="2.9" fill="#fff"/><circle cx="524.2" cy="75" r="10.6" fill="#4797d3"/><circle cx="521.3" cy="72.4" r="4.8" fill="#fff" fill-opacity=".42"/><circle cx="521.3" cy="72.4" r="2.9" fill="#fff"/><circle cx="534.1" cy="75" r="10.6" fill="#4797d3"/><circle cx="531.2" cy="72.4" r="4.8" fill="#fff" fill-opacity=".42"/><circle cx="531.2" cy="72.4" r="2.9" fill="#fff"/><circle cx="543.9" cy="75" r="10.6" fill="#4797d3"/><circle cx="541" cy="72.4" r="4.8" fill="#fff" fill-opacity=".42"/><circle cx="541" cy="72.4" r="2.9" fill="#fff"/><circle cx="553.8" cy="75" r="10.6" fill="#4797d3"/><circle cx="550.9" cy="72.4" r="4.8" fill="#fff" fill-opacity=".42"/><circle cx="550.9" cy="72.4" r="2.9" fill="#fff"/><circle cx="563.7" cy="75" r="10.6" fill="#4797d3"/><circle cx="560.8" cy="72.4" r="4.8" fill="#fff" fill-opacity=".42"/><circle cx="560.8" cy="72.4" r="2.9" fill="#fff"/><circle cx="573.6" cy="75" r="10.6" fill="#4797d3"/><circle cx="570.7" cy="72.4" r="4.8" fill="#fff" fill-opacity=".42"/><circle cx="570.7" cy="72.4" r="2.9" fill="#fff"/><circle cx="583.4" cy="75" r="10.6" fill="#4797d3"/><circle cx="580.5" cy="72.4" r="4.8" fill="#fff" fill-opacity=".42"/><circle cx="580.5" cy="72.4" r="2.9" fill="#fff"/><circle cx="593.3" cy="75" r="10.6" fill="#4797d3"/><circle cx="590.4" cy="72.4" r="4.8" fill="#fff" fill-opacity=".42"/><circle cx="590.4" cy="72.4" r="2.9" fill="#fff"/><circle cx="603.2" cy="75" r="10.6" fill="#4797d3"/><circle cx="600.3" cy="72.4" r="4.8" fill="#fff" fill-opacity=".42"/><circle cx="600.3" cy="72.4" r="2.9" fill="#fff"/><circle cx="613.1" cy="75" r="10.6" fill="#4797d3"/><circle cx="610.2" cy="72.4" r="4.8" fill="#fff" fill-opacity=".42"/><circle cx="610.2" cy="72.4" r="2.9" fill="#fff"/><circle cx="622.9" cy="75" r="10.6" fill="#4797d3"/><circle cx="620" cy="72.4" r="4.8" fill="#fff" fill-opacity=".42"/><circle cx="620" cy="72.4" r="2.9" fill="#fff"/><circle cx="632.8" cy="75" r="10.6" fill="#4797d3"/><circle cx="629.9" cy="72.4" r="4.8" fill="#fff" fill-opacity=".42"/><circle cx="629.9" cy="72.4" r="2.9" fill="#fff"/></g>
<g clip-path="url(#c11)"><polyline points="652.3,704.3 663.5,689.1 677,649.3 691.3,563.3 693.6,430 694.2,405" fill="none" stroke="#4797d3" stroke-width="11.7" stroke-linejoin="round" /><circle cx="652.3" cy="704.3" r="10.6" fill="#4797d3"/><circle cx="649.4" cy="701.7" r="4.8" fill="#fff" fill-opacity=".42"/><circle cx="649.4" cy="701.7" r="2.9" fill="#fff"/><circle cx="663.5" cy="689.1" r="10.6" fill="#4797d3"/><circle cx="660.6" cy="686.5" r="4.8" fill="#fff" fill-opacity=".42"/><circle cx="660.6" cy="686.5" r="2.9" fill="#fff"/><circle cx="677" cy="649.3" r="10.6" fill="#4797d3"/><circle cx="674.1" cy="646.7" r="4.8" fill="#fff" fill-opacity=".42"/><circle cx="674.1" cy="646.7" r="2.9" fill="#fff"/><circle cx="691.3" cy="563.3" r="10.6" fill="#4797d3"/><circle cx="688.4" cy="560.7" r="4.8" fill="#fff" fill-opacity=".42"/><circle cx="688.4" cy="560.7" r="2.9" fill="#fff"/></g>
<g clip-path="url(#c10)"><polyline points="694.5,435 695,412 703.1,75 716.2,75 729.3,75 742.5,75 755.6,75 767.5,412 768.3,435" fill="none" stroke="#4797d3" stroke-width="11.7" stroke-linejoin="round" /><circle cx="703.1" cy="75" r="10.6" fill="#4797d3"/><circle cx="700.2" cy="72.4" r="4.8" fill="#fff" fill-opacity=".42"/><circle cx="700.2" cy="72.4" r="2.9" fill="#fff"/><circle cx="716.2" cy="75" r="10.6" fill="#4797d3"/><circle cx="713.3" cy="72.4" r="4.8" fill="#fff" fill-opacity=".42"/><circle cx="713.3" cy="72.4" r="2.9" fill="#fff"/><circle cx="729.3" cy="75" r="10.6" fill="#4797d3"/><circle cx="726.4" cy="72.4" r="4.8" fill="#fff" fill-opacity=".42"/><circle cx="726.4" cy="72.4" r="2.9" fill="#fff"/><circle cx="742.5" cy="75" r="10.6" fill="#4797d3"/><circle cx="739.6" cy="72.4" r="4.8" fill="#fff" fill-opacity=".42"/><circle cx="739.6" cy="72.4" r="2.9" fill="#fff"/><circle cx="755.6" cy="75" r="10.6" fill="#4797d3"/><circle cx="752.7" cy="72.4" r="4.8" fill="#fff" fill-opacity=".42"/><circle cx="752.7" cy="72.4" r="2.9" fill="#fff"/></g>
<g clip-path="url(#c11)"><polyline points="767,405 769.9,430 786.2,598.4 793.2,674.6 806.6,721 820.2,752.6 832.9,774.4 846.2,790.5 859.5,802.5 872.5,811.7 879,826 898.5,835" fill="none" stroke="#4797d3" stroke-width="11.7" stroke-linejoin="round" /><circle cx="786.2" cy="598.4" r="10.6" fill="#4797d3"/><circle cx="783.3" cy="595.8" r="4.8" fill="#fff" fill-opacity=".42"/><circle cx="783.3" cy="595.8" r="2.9" fill="#fff"/><circle cx="793.2" cy="674.6" r="10.6" fill="#4797d3"/><circle cx="790.3" cy="672" r="4.8" fill="#fff" fill-opacity=".42"/><circle cx="790.3" cy="672" r="2.9" fill="#fff"/><circle cx="806.6" cy="721" r="10.6" fill="#4797d3"/><circle cx="803.7" cy="718.4" r="4.8" fill="#fff" fill-opacity=".42"/><circle cx="803.7" cy="718.4" r="2.9" fill="#fff"/><circle cx="820.2" cy="752.6" r="10.6" fill="#4797d3"/><circle cx="817.3" cy="750" r="4.8" fill="#fff" fill-opacity=".42"/><circle cx="817.3" cy="750" r="2.9" fill="#fff"/><circle cx="832.9" cy="774.4" r="10.6" fill="#4797d3"/><circle cx="830" cy="771.8" r="4.8" fill="#fff" fill-opacity=".42"/><circle cx="830" cy="771.8" r="2.9" fill="#fff"/><circle cx="846.2" cy="790.5" r="10.6" fill="#4797d3"/><circle cx="843.3" cy="787.9" r="4.8" fill="#fff" fill-opacity=".42"/><circle cx="843.3" cy="787.9" r="2.9" fill="#fff"/><circle cx="859.5" cy="802.5" r="10.6" fill="#4797d3"/><circle cx="856.6" cy="799.9" r="4.8" fill="#fff" fill-opacity=".42"/><circle cx="856.6" cy="799.9" r="2.9" fill="#fff"/><circle cx="872.5" cy="811.7" r="10.6" fill="#4797d3"/><circle cx="869.6" cy="809.1" r="4.8" fill="#fff" fill-opacity=".42"/><circle cx="869.6" cy="809.1" r="2.9" fill="#fff"/><circle cx="879" cy="826" r="10.6" fill="#4797d3"/><circle cx="876.1" cy="823.4" r="4.8" fill="#fff" fill-opacity=".42"/><circle cx="876.1" cy="823.4" r="2.9" fill="#fff"/><circle cx="898.5" cy="835" r="10.6" fill="#4797d3"/><circle cx="895.6" cy="832.4" r="4.8" fill="#fff" fill-opacity=".42"/><circle cx="895.6" cy="832.4" r="2.9" fill="#fff"/></g>
<g clip-path="url(#c12)"><polyline points="898.4,828.4 911.3,840.2 924.3,851.8 937.2,862.2 950.2,870 963.2,877.8 976.1,884.3 989.1,890.7 1002.2,896.9" fill="none" stroke="#4797d3" stroke-width="11.7" stroke-linejoin="round" /><circle cx="911.3" cy="840.2" r="10.6" fill="#4797d3"/><circle cx="908.4" cy="837.6" r="4.8" fill="#fff" fill-opacity=".42"/><circle cx="908.4" cy="837.6" r="2.9" fill="#fff"/><circle cx="924.3" cy="851.8" r="10.6" fill="#4797d3"/><circle cx="921.4" cy="849.2" r="4.8" fill="#fff" fill-opacity=".42"/><circle cx="921.4" cy="849.2" r="2.9" fill="#fff"/><circle cx="937.2" cy="862.2" r="10.6" fill="#4797d3"/><circle cx="934.3" cy="859.6" r="4.8" fill="#fff" fill-opacity=".42"/><circle cx="934.3" cy="859.6" r="2.9" fill="#fff"/><circle cx="950.2" cy="870" r="10.6" fill="#4797d3"/><circle cx="947.3" cy="867.4" r="4.8" fill="#fff" fill-opacity=".42"/><circle cx="947.3" cy="867.4" r="2.9" fill="#fff"/><circle cx="963.2" cy="877.8" r="10.6" fill="#4797d3"/><circle cx="960.3" cy="875.2" r="4.8" fill="#fff" fill-opacity=".42"/><circle cx="960.3" cy="875.2" r="2.9" fill="#fff"/><circle cx="976.1" cy="884.3" r="10.6" fill="#4797d3"/><circle cx="973.2" cy="881.7" r="4.8" fill="#fff" fill-opacity=".42"/><circle cx="973.2" cy="881.7" r="2.9" fill="#fff"/><circle cx="989.1" cy="890.7" r="10.6" fill="#4797d3"/><circle cx="986.2" cy="888.1" r="4.8" fill="#fff" fill-opacity=".42"/><circle cx="986.2" cy="888.1" r="2.9" fill="#fff"/><circle cx="1002.2" cy="896.9" r="10.6" fill="#4797d3"/><circle cx="999.3" cy="894.3" r="4.8" fill="#fff" fill-opacity=".42"/><circle cx="999.3" cy="894.3" r="2.9" fill="#fff"/></g>
<g clip-path="url(#c22)"><polyline points="1005.5,951 1016.2,951 1027,951.5 1038,952.5 1047.8,955 1058.6,956.2 1069,956 1080,945.5 1090.7,922.3 1101.1,886.8 1111.6,841.5 1117,817" fill="none" stroke="#4797d3" stroke-width="11.7" stroke-linejoin="round" /><circle cx="1005.5" cy="951" r="10.6" fill="#4797d3"/><circle cx="1002.6" cy="948.4" r="4.8" fill="#fff" fill-opacity=".42"/><circle cx="1002.6" cy="948.4" r="2.9" fill="#fff"/><circle cx="1016.2" cy="951" r="10.6" fill="#4797d3"/><circle cx="1013.3" cy="948.4" r="4.8" fill="#fff" fill-opacity=".42"/><circle cx="1013.3" cy="948.4" r="2.9" fill="#fff"/><circle cx="1027" cy="951.5" r="10.6" fill="#4797d3"/><circle cx="1024.1" cy="948.9" r="4.8" fill="#fff" fill-opacity=".42"/><circle cx="1024.1" cy="948.9" r="2.9" fill="#fff"/><circle cx="1038" cy="952.5" r="10.6" fill="#4797d3"/><circle cx="1035.1" cy="949.9" r="4.8" fill="#fff" fill-opacity=".42"/><circle cx="1035.1" cy="949.9" r="2.9" fill="#fff"/><circle cx="1047.8" cy="955" r="10.6" fill="#4797d3"/><circle cx="1044.9" cy="952.4" r="4.8" fill="#fff" fill-opacity=".42"/><circle cx="1044.9" cy="952.4" r="2.9" fill="#fff"/><circle cx="1058.6" cy="956.2" r="10.6" fill="#4797d3"/><circle cx="1055.7" cy="953.6" r="4.8" fill="#fff" fill-opacity=".42"/><circle cx="1055.7" cy="953.6" r="2.9" fill="#fff"/><circle cx="1069" cy="956" r="10.6" fill="#4797d3"/><circle cx="1066.1" cy="953.4" r="4.8" fill="#fff" fill-opacity=".42"/><circle cx="1066.1" cy="953.4" r="2.9" fill="#fff"/><circle cx="1080" cy="945.5" r="10.6" fill="#4797d3"/><circle cx="1077.1" cy="942.9" r="4.8" fill="#fff" fill-opacity=".42"/><circle cx="1077.1" cy="942.9" r="2.9" fill="#fff"/><circle cx="1090.7" cy="922.3" r="10.6" fill="#4797d3"/><circle cx="1087.8" cy="919.7" r="4.8" fill="#fff" fill-opacity=".42"/><circle cx="1087.8" cy="919.7" r="2.9" fill="#fff"/><circle cx="1101.1" cy="886.8" r="10.6" fill="#4797d3"/><circle cx="1098.2" cy="884.2" r="4.8" fill="#fff" fill-opacity=".42"/><circle cx="1098.2" cy="884.2" r="2.9" fill="#fff"/><circle cx="1111.6" cy="841.5" r="10.6" fill="#4797d3"/><circle cx="1108.7" cy="838.9" r="4.8" fill="#fff" fill-opacity=".42"/><circle cx="1108.7" cy="838.9" r="2.9" fill="#fff"/></g>
<g clip-path="url(#c21)"><polyline points="1116.3,828.3 1121.6,806.1 1132.1,774.8 1142.3,750.7 1154.2,745 1164.1,762 1174.6,787.6 1185.4,808.9 1192.3,826.3" fill="none" stroke="#4797d3" stroke-width="11.7" stroke-linejoin="round" /><circle cx="1121.6" cy="806.1" r="10.6" fill="#4797d3"/><circle cx="1118.7" cy="803.5" r="4.8" fill="#fff" fill-opacity=".42"/><circle cx="1118.7" cy="803.5" r="2.9" fill="#fff"/><circle cx="1132.1" cy="774.8" r="10.6" fill="#4797d3"/><circle cx="1129.2" cy="772.2" r="4.8" fill="#fff" fill-opacity=".42"/><circle cx="1129.2" cy="772.2" r="2.9" fill="#fff"/><circle cx="1142.3" cy="750.7" r="10.6" fill="#4797d3"/><circle cx="1139.4" cy="748.1" r="4.8" fill="#fff" fill-opacity=".42"/><circle cx="1139.4" cy="748.1" r="2.9" fill="#fff"/><circle cx="1154.2" cy="745" r="10.6" fill="#4797d3"/><circle cx="1151.3" cy="742.4" r="4.8" fill="#fff" fill-opacity=".42"/><circle cx="1151.3" cy="742.4" r="2.9" fill="#fff"/><circle cx="1164.1" cy="762" r="10.6" fill="#4797d3"/><circle cx="1161.2" cy="759.4" r="4.8" fill="#fff" fill-opacity=".42"/><circle cx="1161.2" cy="759.4" r="2.9" fill="#fff"/><circle cx="1174.6" cy="787.6" r="10.6" fill="#4797d3"/><circle cx="1171.7" cy="785" r="4.8" fill="#fff" fill-opacity=".42"/><circle cx="1171.7" cy="785" r="2.9" fill="#fff"/><circle cx="1185.4" cy="808.9" r="10.6" fill="#4797d3"/><circle cx="1182.5" cy="806.3" r="4.8" fill="#fff" fill-opacity=".42"/><circle cx="1182.5" cy="806.3" r="2.9" fill="#fff"/></g>
<g clip-path="url(#c22)"><polyline points="1203.7,831 1214.2,841 1224.7,842.3 1235.2,843.5 1245.7,843.9 1256.2,844.3 1266.7,845.5 1277.2,846.8 1287.7,848.4 1298.2,850.1 1308.7,851.7 1319.2,853.2 1329.7,854.1 1340.2,855 1350.7,855.6 1361.2,856.1 1371.7,856.2 1382.2,856.4 1392.7,856.2 1403.2,856.1 1413.7,855.8 1424.2,855.5 1434.7,855.2 1445.2,854.9" fill="none" stroke="#4797d3" stroke-width="11.7" stroke-linejoin="round" /><circle cx="1203.7" cy="831" r="10.6" fill="#4797d3"/><circle cx="1200.8" cy="828.4" r="4.8" fill="#fff" fill-opacity=".42"/><circle cx="1200.8" cy="828.4" r="2.9" fill="#fff"/><circle cx="1214.2" cy="841" r="10.6" fill="#4797d3"/><circle cx="1211.3" cy="838.4" r="4.8" fill="#fff" fill-opacity=".42"/><circle cx="1211.3" cy="838.4" r="2.9" fill="#fff"/><circle cx="1224.7" cy="842.3" r="10.6" fill="#4797d3"/><circle cx="1221.8" cy="839.7" r="4.8" fill="#fff" fill-opacity=".42"/><circle cx="1221.8" cy="839.7" r="2.9" fill="#fff"/><circle cx="1235.2" cy="843.5" r="10.6" fill="#4797d3"/><circle cx="1232.3" cy="840.9" r="4.8" fill="#fff" fill-opacity=".42"/><circle cx="1232.3" cy="840.9" r="2.9" fill="#fff"/><circle cx="1245.7" cy="843.9" r="10.6" fill="#4797d3"/><circle cx="1242.8" cy="841.3" r="4.8" fill="#fff" fill-opacity=".42"/><circle cx="1242.8" cy="841.3" r="2.9" fill="#fff"/><circle cx="1256.2" cy="844.3" r="10.6" fill="#4797d3"/><circle cx="1253.3" cy="841.7" r="4.8" fill="#fff" fill-opacity=".42"/><circle cx="1253.3" cy="841.7" r="2.9" fill="#fff"/><circle cx="1266.7" cy="845.5" r="10.6" fill="#4797d3"/><circle cx="1263.8" cy="842.9" r="4.8" fill="#fff" fill-opacity=".42"/><circle cx="1263.8" cy="842.9" r="2.9" fill="#fff"/><circle cx="1277.2" cy="846.8" r="10.6" fill="#4797d3"/><circle cx="1274.3" cy="844.2" r="4.8" fill="#fff" fill-opacity=".42"/><circle cx="1274.3" cy="844.2" r="2.9" fill="#fff"/><circle cx="1287.7" cy="848.4" r="10.6" fill="#4797d3"/><circle cx="1284.8" cy="845.8" r="4.8" fill="#fff" fill-opacity=".42"/><circle cx="1284.8" cy="845.8" r="2.9" fill="#fff"/><circle cx="1298.2" cy="850.1" r="10.6" fill="#4797d3"/><circle cx="1295.3" cy="847.5" r="4.8" fill="#fff" fill-opacity=".42"/><circle cx="1295.3" cy="847.5" r="2.9" fill="#fff"/><circle cx="1308.7" cy="851.7" r="10.6" fill="#4797d3"/><circle cx="1305.8" cy="849.1" r="4.8" fill="#fff" fill-opacity=".42"/><circle cx="1305.8" cy="849.1" r="2.9" fill="#fff"/><circle cx="1319.2" cy="853.2" r="10.6" fill="#4797d3"/><circle cx="1316.3" cy="850.6" r="4.8" fill="#fff" fill-opacity=".42"/><circle cx="1316.3" cy="850.6" r="2.9" fill="#fff"/><circle cx="1329.7" cy="854.1" r="10.6" fill="#4797d3"/><circle cx="1326.8" cy="851.5" r="4.8" fill="#fff" fill-opacity=".42"/><circle cx="1326.8" cy="851.5" r="2.9" fill="#fff"/><circle cx="1340.2" cy="855" r="10.6" fill="#4797d3"/><circle cx="1337.3" cy="852.4" r="4.8" fill="#fff" fill-opacity=".42"/><circle cx="1337.3" cy="852.4" r="2.9" fill="#fff"/><circle cx="1350.7" cy="855.6" r="10.6" fill="#4797d3"/><circle cx="1347.8" cy="853" r="4.8" fill="#fff" fill-opacity=".42"/><circle cx="1347.8" cy="853" r="2.9" fill="#fff"/><circle cx="1361.2" cy="856.1" r="10.6" fill="#4797d3"/><circle cx="1358.3" cy="853.5" r="4.8" fill="#fff" fill-opacity=".42"/><circle cx="1358.3" cy="853.5" r="2.9" fill="#fff"/><circle cx="1371.7" cy="856.2" r="10.6" fill="#4797d3"/><circle cx="1368.8" cy="853.6" r="4.8" fill="#fff" fill-opacity=".42"/><circle cx="1368.8" cy="853.6" r="2.9" fill="#fff"/><circle cx="1382.2" cy="856.4" r="10.6" fill="#4797d3"/><circle cx="1379.3" cy="853.8" r="4.8" fill="#fff" fill-opacity=".42"/><circle cx="1379.3" cy="853.8" r="2.9" fill="#fff"/><circle cx="1392.7" cy="856.2" r="10.6" fill="#4797d3"/><circle cx="1389.8" cy="853.6" r="4.8" fill="#fff" fill-opacity=".42"/><circle cx="1389.8" cy="853.6" r="2.9" fill="#fff"/><circle cx="1403.2" cy="856.1" r="10.6" fill="#4797d3"/><circle cx="1400.3" cy="853.5" r="4.8" fill="#fff" fill-opacity=".42"/><circle cx="1400.3" cy="853.5" r="2.9" fill="#fff"/><circle cx="1413.7" cy="855.8" r="10.6" fill="#4797d3"/><circle cx="1410.8" cy="853.2" r="4.8" fill="#fff" fill-opacity=".42"/><circle cx="1410.8" cy="853.2" r="2.9" fill="#fff"/><circle cx="1424.2" cy="855.5" r="10.6" fill="#4797d3"/><circle cx="1421.3" cy="852.9" r="4.8" fill="#fff" fill-opacity=".42"/><circle cx="1421.3" cy="852.9" r="2.9" fill="#fff"/><circle cx="1434.7" cy="855.2" r="10.6" fill="#4797d3"/><circle cx="1431.8" cy="852.6" r="4.8" fill="#fff" fill-opacity=".42"/><circle cx="1431.8" cy="852.6" r="2.9" fill="#fff"/><circle cx="1445.2" cy="854.9" r="10.6" fill="#4797d3"/><circle cx="1442.3" cy="852.3" r="4.8" fill="#fff" fill-opacity=".42"/><circle cx="1442.3" cy="852.3" r="2.9" fill="#fff"/></g>
<g clip-path="url(#c01)"><polyline points="196,807 197.7,806.8 200.1,806.6 202.9,806.3 205.9,806.1 209,805.8 211.8,805.6 214.5,805.4 217.1,805.3 219.8,805.2 222.5,805.1 225.2,805 228,805 230.9,805 233.8,805 236.7,805 239.7,805.1 242.6,805.2 245.5,805.3 248.3,805.5 251,805.7 253.8,805.9 256.5,806.2 259.2,806.5 262,806.8 264.8,807.2 267.7,807.5 270.6,807.9 273.5,808.4 276.3,808.9 279.2,809.5 282.1,810.2 285,810.9 288,811.7 290.8,812.6 293.5,813.5 296,814.5 298.2,815.6 300.2,816.8 302.1,818.1 303.8,819.4 305.4,820.8 307,822 308.6,823.3 310.2,824.6 311.7,826 313,827.2 314.2,828.2 315,829" fill="none" stroke="#2fb500" stroke-width="11.7" stroke-linejoin="round" /><path d="M187.8 806.8H208.8M198.3 796.3V817.3" stroke="#2fb500" stroke-width="1.5" fill="none"/><path d="M197.6 805.9H218.6M208.1 795.4V816.4" stroke="#2fb500" stroke-width="1.5" fill="none"/><path d="M207.5 805.3H228.5M218 794.8V815.8" stroke="#2fb500" stroke-width="1.5" fill="none"/><path d="M217.4 805H238.4M227.9 794.5V815.5" stroke="#2fb500" stroke-width="1.5" fill="none"/><path d="M227.3 805H248.3M237.8 794.5V815.5" stroke="#2fb500" stroke-width="1.5" fill="none"/><path d="M237.1 805.4H258.1M247.6 794.9V815.9" stroke="#2fb500" stroke-width="1.5" fill="none"/><path d="M247 806.3H268M257.5 795.8V816.8" stroke="#2fb500" stroke-width="1.5" fill="none"/><path d="M256.9 807.5H277.9M267.4 797V818" stroke="#2fb500" stroke-width="1.5" fill="none"/><path d="M266.8 809.1H287.8M277.3 798.6V819.6" stroke="#2fb500" stroke-width="1.5" fill="none"/><path d="M276.7 811.5H297.7M287.2 801V822" stroke="#2fb500" stroke-width="1.5" fill="none"/><path d="M286.5 815H307.5M297 804.5V825.5" stroke="#2fb500" stroke-width="1.5" fill="none"/><path d="M296.4 821.9H317.4M306.9 811.4V832.4" stroke="#2fb500" stroke-width="1.5" fill="none"/><path d="M306.3 830.6H327.3M316.8 820.1V841.1" stroke="#2fb500" stroke-width="1.5" fill="none"/></g>
<g clip-path="url(#c02)"><polyline points="333,822 334.4,823.1 336.3,824.6 338.6,826.4 341.1,828.4 343.6,830.3 346,832 348.3,833.6 350.6,835.1 353,836.7 355.4,838.1 357.7,839.6 360,841 362.2,842.4 364.4,843.7 366.5,844.9 368.6,846.1 370.8,847.3 373,848.5 375.3,849.6 377.7,850.7 380.1,851.8 382.5,852.8 385,853.8 387.4,854.8 389.8,855.7 392.2,856.7 394.7,857.6 397.1,858.4 399.5,859.2 402,860 404.4,860.7 406.8,861.4 409.1,862 411.6,862.6 414.2,863.2 417,863.7 420.1,864.2 423.4,864.7 426.9,865.2 430.4,865.5 434.1,865.8 437.8,865.8 441.7,865.6 445.8,865.2 450,864.7 454.2,864.1 458,863.4 461.5,862.8 464.4,862.2 467,861.6 469.3,861 471.5,860.3 473.7,859.6 476,858.8 478.5,858 481,857.2 483.6,856.3 486.1,855.4 488.6,854.4 491.1,853.3 493.5,852.1 496,850.8 498.4,849.5 500.7,848.1 502.9,846.8 505,845.5 506.9,844.3 508.7,843.1 510.3,841.9 511.9,840.8 513.5,839.6 515,838.5 516.5,837.4 518,836.4 519.5,835.3 521,834.3 522.3,833.2 523.7,832 525.1,830.7 526.5,829.1 527.9,827.6 529.2,826.1 530.2,824.9 531,824" fill="none" stroke="#2fb500" stroke-width="11.7" stroke-linejoin="round" /><path d="M316.2 817H337.2M326.7 806.5V827.5" stroke="#2fb500" stroke-width="1.5" fill="none"/><path d="M326 824.8H347M336.5 814.3V835.3" stroke="#2fb500" stroke-width="1.5" fill="none"/><path d="M335.9 832.3H356.9M346.4 821.8V842.8" stroke="#2fb500" stroke-width="1.5" fill="none"/><path d="M345.8 838.7H366.8M356.3 828.2V849.2" stroke="#2fb500" stroke-width="1.5" fill="none"/><path d="M355.7 844.7H376.7M366.2 834.2V855.2" stroke="#2fb500" stroke-width="1.5" fill="none"/><path d="M365.5 850H386.5M376 839.5V860.5" stroke="#2fb500" stroke-width="1.5" fill="none"/><path d="M375.4 854.2H396.4M385.9 843.7V864.7" stroke="#2fb500" stroke-width="1.5" fill="none"/><path d="M385.3 858H406.3M395.8 847.5V868.5" stroke="#2fb500" stroke-width="1.5" fill="none"/><path d="M395.2 861.1H416.2M405.7 850.6V871.6" stroke="#2fb500" stroke-width="1.5" fill="none"/><path d="M405 863.4H426M415.5 852.9V873.9" stroke="#2fb500" stroke-width="1.5" fill="none"/><path d="M414.9 865H435.9M425.4 854.5V875.5" stroke="#2fb500" stroke-width="1.5" fill="none"/><path d="M424.8 865.8H445.8M435.3 855.3V876.3" stroke="#2fb500" stroke-width="1.5" fill="none"/><path d="M434.7 865.3H455.7M445.2 854.8V875.8" stroke="#2fb500" stroke-width="1.5" fill="none"/><path d="M444.5 863.9H465.5M455 853.4V874.4" stroke="#2fb500" stroke-width="1.5" fill="none"/><path d="M454.4 862.1H475.4M464.9 851.6V872.6" stroke="#2fb500" stroke-width="1.5" fill="none"/><path d="M464.3 859.2H485.3M474.8 848.7V869.7" stroke="#2fb500" stroke-width="1.5" fill="none"/><path d="M474.2 855.9H495.2M484.7 845.4V866.4" stroke="#2fb500" stroke-width="1.5" fill="none"/><path d="M484 851.6H505M494.5 841.1V862.1" stroke="#2fb500" stroke-width="1.5" fill="none"/><path d="M493.9 845.9H514.9M504.4 835.4V856.4" stroke="#2fb500" stroke-width="1.5" fill="none"/><path d="M503.8 839H524.8M514.3 828.5V849.5" stroke="#2fb500" stroke-width="1.5" fill="none"/><path d="M513.7 831.5H534.7M524.2 821V842" stroke="#2fb500" stroke-width="1.5" fill="none"/><path d="M523.6 820.5H544.6M534.1 810V831" stroke="#2fb500" stroke-width="1.5" fill="none"/></g>
<g clip-path="url(#c01)"><polyline points="540,824 547.1,816 550.6,804 553.8,796 556.8,772.2 562.2,733.2 565.7,680 569.6,577.8 572.6,430 573,405" fill="none" stroke="#2fb500" stroke-width="11.7" stroke-linejoin="round" /><path d="M543.3 796H564.3M553.8 785.5V806.5" stroke="#2fb500" stroke-width="1.5" fill="none"/><path d="M553.2 733H574.2M563.7 722.5V743.5" stroke="#2fb500" stroke-width="1.5" fill="none"/></g>
<g clip-path="url(#c00)"><polyline points="573.2,435 573.5,412 575.6,340 580,75 580.6,50" fill="none" stroke="#2fb500" stroke-width="11.7" stroke-linejoin="round" /></g>
<g clip-path="url(#c02)"><polyline points="196,946 196.9,945.6 198.1,945.2 199.5,944.7 201.3,944 203.4,943 205.9,941.7 209,940 212.6,938.1 216.6,935.8 220.7,933.4 224.8,930.8 228.7,928.2 232.5,925.4 236.3,922.4 240,919.3 243.7,916.1 247.3,912.8 250.6,909.7 253.7,906.7 256.6,903.7 259.4,900.7 262.1,897.6 264.8,894.5 267.4,891.2 270,887.7 272.7,884.2 275.2,880.5 277.7,876.7 280.2,873 282.6,869.3 285,865.6 287.3,861.7 289.6,857.8 291.8,854.1 294,850.6 296,847.4 297.9,844.6 299.7,842.1 301.4,839.9 303.1,837.8 304.7,835.8 306.2,833.9 307.7,831.9 309.3,830 310.7,828.1 312.1,826.4 313.2,825 314,824" fill="none" stroke="#4f4f4f" stroke-width="11.7" stroke-linejoin="round" /><path d="M186.8 933.7L209.8 956.7M186.8 956.7L209.8 933.7" stroke="#4f4f4f" stroke-width="1.5" fill="none"/><path d="M196.6 929L219.6 952M196.6 952L219.6 929" stroke="#4f4f4f" stroke-width="1.5" fill="none"/><path d="M206.5 923.5L229.5 946.5M206.5 946.5L229.5 923.5" stroke="#4f4f4f" stroke-width="1.5" fill="none"/><path d="M216.4 917.2L239.4 940.2M216.4 940.2L239.4 917.2" stroke="#4f4f4f" stroke-width="1.5" fill="none"/><path d="M226.3 909.6L249.3 932.6M226.3 932.6L249.3 909.6" stroke="#4f4f4f" stroke-width="1.5" fill="none"/><path d="M236.1 901L259.1 924M236.1 924L259.1 901" stroke="#4f4f4f" stroke-width="1.5" fill="none"/><path d="M246 891.2L269 914.2M246 914.2L269 891.2" stroke="#4f4f4f" stroke-width="1.5" fill="none"/><path d="M255.9 879.7L278.9 902.7M255.9 902.7L278.9 879.7" stroke="#4f4f4f" stroke-width="1.5" fill="none"/><path d="M265.8 865.9L288.8 888.9M265.8 888.9L288.8 865.9" stroke="#4f4f4f" stroke-width="1.5" fill="none"/><path d="M275.7 850.5L298.7 873.5M275.7 873.5L298.7 850.5" stroke="#4f4f4f" stroke-width="1.5" fill="none"/><path d="M285.5 834.4L308.5 857.4M285.5 857.4L308.5 834.4" stroke="#4f4f4f" stroke-width="1.5" fill="none"/><path d="M295.4 821.5L318.4 844.5M295.4 844.5L318.4 821.5" stroke="#4f4f4f" stroke-width="1.5" fill="none"/><path d="M305.3 809L328.3 832M305.3 832L328.3 809" stroke="#4f4f4f" stroke-width="1.5" fill="none"/></g>
<g clip-path="url(#c01)"><polyline points="322,826 323.4,824.9 325.4,823.3 327.7,821.4 330.2,819.5 332.7,817.6 335,816 337.2,814.6 339.3,813.4 341.4,812.2 343.6,811 345.8,810 348,809 350.2,808.1 352.4,807.2 354.7,806.5 357,805.8 359.4,805.1 362,804.5 364.8,803.9 367.8,803.4 370.9,802.9 374,802.5 377.1,802.1 380,801.8 382.8,801.5 385.5,801.3 388.2,801.1 390.9,801 393.6,800.9 396.3,800.9 399.1,800.9 401.8,801 404.6,801.1 407.4,801.3 410.2,801.5 413,801.8 415.9,802.1 418.8,802.5 421.7,802.9 424.5,803.4 427.3,803.9 430,804.5 432.5,805.1 434.9,805.8 437.2,806.5 439.5,807.2 441.8,808.1 444,809 446.2,810 448.4,811 450.6,812.2 452.7,813.4 454.8,814.6 457,816 459.3,817.6 461.8,819.5 464.3,821.4 466.6,823.3 468.6,824.9 470,826" fill="none" stroke="#4f4f4f" stroke-width="11.7" stroke-linejoin="round" /><path d="M305.3 818.6L328.3 841.6M305.3 841.6L328.3 818.6" stroke="#4f4f4f" stroke-width="1.5" fill="none"/><path d="M315.2 810.8L338.2 833.8M315.2 833.8L338.2 810.8" stroke="#4f4f4f" stroke-width="1.5" fill="none"/><path d="M325 803.5L348 826.5M325 826.5L348 803.5" stroke="#4f4f4f" stroke-width="1.5" fill="none"/><path d="M334.9 798.2L357.9 821.2M334.9 821.2L357.9 798.2" stroke="#4f4f4f" stroke-width="1.5" fill="none"/><path d="M344.8 794.5L367.8 817.5M344.8 817.5L367.8 794.5" stroke="#4f4f4f" stroke-width="1.5" fill="none"/><path d="M354.7 792.2L377.7 815.2M354.7 815.2L377.7 792.2" stroke="#4f4f4f" stroke-width="1.5" fill="none"/><path d="M364.5 790.7L387.5 813.7M364.5 813.7L387.5 790.7" stroke="#4f4f4f" stroke-width="1.5" fill="none"/><path d="M374.4 789.8L397.4 812.8M374.4 812.8L397.4 789.8" stroke="#4f4f4f" stroke-width="1.5" fill="none"/><path d="M384.3 789.4L407.3 812.4M384.3 812.4L407.3 789.4" stroke="#4f4f4f" stroke-width="1.5" fill="none"/><path d="M394.2 789.7L417.2 812.7M394.2 812.7L417.2 789.7" stroke="#4f4f4f" stroke-width="1.5" fill="none"/><path d="M404 790.6L427 813.6M404 813.6L427 790.6" stroke="#4f4f4f" stroke-width="1.5" fill="none"/><path d="M413.9 792.1L436.9 815.1M413.9 815.1L436.9 792.1" stroke="#4f4f4f" stroke-width="1.5" fill="none"/><path d="M423.8 794.4L446.8 817.4M423.8 817.4L446.8 794.4" stroke="#4f4f4f" stroke-width="1.5" fill="none"/><path d="M433.7 798L456.7 821M433.7 821L456.7 798" stroke="#4f4f4f" stroke-width="1.5" fill="none"/><path d="M443.5 803.3L466.5 826.3M443.5 826.3L466.5 803.3" stroke="#4f4f4f" stroke-width="1.5" fill="none"/><path d="M453.4 810.4L476.4 833.4M453.4 833.4L476.4 810.4" stroke="#4f4f4f" stroke-width="1.5" fill="none"/><path d="M463.3 818.3L486.3 841.3M463.3 841.3L486.3 818.3" stroke="#4f4f4f" stroke-width="1.5" fill="none"/></g>
<g clip-path="url(#c02)"><polyline points="492,825 493,825.5 494.4,826.3 496,827.2 497.7,828.2 499.5,829.1 501,830 502.3,830.7 503.5,831.3 504.7,831.9 505.9,832.6 507.3,833.4 509,834.5 511,835.9 513.1,837.6 515.5,839.4 518,841.3 520.6,843.1 523.2,844.8 525.9,846.4 528.8,848.1 531.8,849.7 534.9,851.2 537.9,852.5 540.9,853.7 543.9,854.7 546.8,855.5 549.8,856.2 552.7,856.8 555.6,857.1 558.6,857.2 561.6,857.1 564.5,856.8 567.5,856.2 570.4,855.5 573.4,854.7 576.3,853.7 579.2,852.5 582.2,851.1 585.1,849.6 588.1,848 591,846.3 594,844.8 597.1,843.3 600.3,841.7 603.5,840.1 606.5,838.5 609.4,837.2 611.8,836 613.8,835.1 615.4,834.4 616.7,833.9 618,833.4 619.2,833 620.6,832.4 622.2,831.7 624,831 625.9,830.2 627.5,829.5 629,828.9 630,828.5" fill="none" stroke="#4f4f4f" stroke-width="11.7" stroke-linejoin="round" /><path d="M473.2 809.4L496.2 832.4M473.2 832.4L496.2 809.4" stroke="#4f4f4f" stroke-width="1.5" fill="none"/><path d="M483 814.9L506 837.9M483 837.9L506 814.9" stroke="#4f4f4f" stroke-width="1.5" fill="none"/><path d="M492.9 820.3L515.9 843.3M492.9 843.3L515.9 820.3" stroke="#4f4f4f" stroke-width="1.5" fill="none"/><path d="M502.8 827L525.8 850M502.8 850L525.8 827" stroke="#4f4f4f" stroke-width="1.5" fill="none"/><path d="M512.7 833.9L535.7 856.9M512.7 856.9L535.7 833.9" stroke="#4f4f4f" stroke-width="1.5" fill="none"/><path d="M522.6 839.3L545.6 862.3M522.6 862.3L545.6 839.3" stroke="#4f4f4f" stroke-width="1.5" fill="none"/><path d="M532.4 843.2L555.4 866.2M532.4 866.2L555.4 843.2" stroke="#4f4f4f" stroke-width="1.5" fill="none"/><path d="M542.3 845.4L565.3 868.4M542.3 868.4L565.3 845.4" stroke="#4f4f4f" stroke-width="1.5" fill="none"/><path d="M552.2 845.3L575.2 868.3M552.2 868.3L575.2 845.3" stroke="#4f4f4f" stroke-width="1.5" fill="none"/><path d="M562.1 843.1L585.1 866.1M562.1 866.1L585.1 843.1" stroke="#4f4f4f" stroke-width="1.5" fill="none"/><path d="M571.9 839L594.9 862M571.9 862L594.9 839" stroke="#4f4f4f" stroke-width="1.5" fill="none"/><path d="M581.8 833.7L604.8 856.7M581.8 856.7L604.8 833.7" stroke="#4f4f4f" stroke-width="1.5" fill="none"/><path d="M591.7 828.7L614.7 851.7M591.7 851.7L614.7 828.7" stroke="#4f4f4f" stroke-width="1.5" fill="none"/><path d="M601.6 823.9L624.6 846.9M601.6 846.9L624.6 823.9" stroke="#4f4f4f" stroke-width="1.5" fill="none"/><path d="M611.4 819.9L634.4 842.9M611.4 842.9L634.4 819.9" stroke="#4f4f4f" stroke-width="1.5" fill="none"/><path d="M621.3 815.8L644.3 838.8M621.3 838.8L644.3 815.8" stroke="#4f4f4f" stroke-width="1.5" fill="none"/></g>
<g clip-path="url(#c11)"><polyline points="637,616 638.2,616 639.9,615.9 642.1,615.7 645.1,615 649.1,613.9 654,612.6 659.1,610.6 663.7,608 667.6,604.4 671.3,600.1 674.7,595.3 677.9,590.2 680.8,584.9 683.5,579.2 686,573.3 688.5,567.2 691.1,560.8 693.6,554 696,547.2 698.3,540.6 700.4,534.2 702.4,527.8 704.3,521.6 706.2,515.7 708,510.1 709.8,504.9 711.5,499.7 713.3,494.5 715.1,489 716.9,483.3 718.7,477.9 720.4,473.2 722,469.3 723.6,466 725.1,463.3 726.6,461 728.1,459.2 729.6,457.9 731.2,457.1 732.8,456.5 734.6,456.2 736.4,456.2 738.2,456.6 739.9,457.2 741.3,457.9 742.7,458.8 743.9,460.3 745.2,462.6 746.5,466.1 747.9,470.5 749.3,475.3 750.6,480.3 751.9,485.3 753.2,490.5 754.5,495.9 755.9,501.6 757.4,507.6 758.9,513.8 760.5,520.1 762.1,526.4 763.6,532.6 765.2,538.8 766.8,545 768.3,551.2 769.8,557.4 771.4,563.6 772.9,569.8 774.5,576 776.1,582.4 777.7,588.8 779.2,595.1 780.7,600.9 782,605.8 783.2,610.1 784.4,614.6 786,620 787.9,626.7 790,634.2 792.3,642.1 794.9,650 797.9,658 801.2,666.4 804.7,674.5 808.1,682 811.4,688.7 814.7,694.9 817.9,700.7 821.2,706 824.5,710.9 827.8,715.3 831,719.3 834.3,723 837.6,726.3 840.8,729.2 844.1,731.7 847.4,734 850.7,735.9 853.9,737.5 857.2,738.8 860.5,740 863.8,741 867.1,741.8 870.4,742.4 873.7,743 876.7,743.5 879.6,743.8 882.8,744.1 886.8,744.3 891.7,744.5 897.3,744.5 903.5,744.5 910,744.4 916.9,744.1 924.3,743.6 932,743 940,742.5 948.9,741.9 958.4,741.3 967.5,740.7 975,740.2 980.4,739.9 984.5,739.7 987.7,739.6 990.7,739.5 993.7,739.3 996.3,739.2 998.5,739.1 1000,739" fill="none" stroke="#4f4f4f" stroke-width="11.7" stroke-linejoin="round" /><path d="M626 604.5L649 627.5M626 627.5L649 604.5" stroke="#4f4f4f" stroke-width="1.5" fill="none"/><path d="M639.1 602L662.1 625M639.1 625L662.1 602" stroke="#4f4f4f" stroke-width="1.5" fill="none"/><path d="M652.2 596.5L675.2 619.5M652.2 619.5L675.2 596.5" stroke="#4f4f4f" stroke-width="1.5" fill="none"/><path d="M665.4 580.4L688.4 603.4M665.4 603.4L688.4 580.4" stroke="#4f4f4f" stroke-width="1.5" fill="none"/><path d="M678.5 552L701.5 575M678.5 575L701.5 552" stroke="#4f4f4f" stroke-width="1.5" fill="none"/><path d="M691.6 514.1L714.6 537.1M691.6 537.1L714.6 514.1" stroke="#4f4f4f" stroke-width="1.5" fill="none"/><path d="M704.7 473.9L727.7 496.9M704.7 496.9L727.7 473.9" stroke="#4f4f4f" stroke-width="1.5" fill="none"/><path d="M717.8 446.7L740.8 469.7M717.8 469.7L740.8 446.7" stroke="#4f4f4f" stroke-width="1.5" fill="none"/><path d="M731 447.2L754 470.2M731 470.2L754 447.2" stroke="#4f4f4f" stroke-width="1.5" fill="none"/><path d="M744.1 488.8L767.1 511.8M744.1 511.8L767.1 488.8" stroke="#4f4f4f" stroke-width="1.5" fill="none"/><path d="M757.2 541.3L780.2 564.3M757.2 564.3L780.2 541.3" stroke="#4f4f4f" stroke-width="1.5" fill="none"/><path d="M770.3 593.6L793.3 616.6M770.3 616.6L793.3 593.6" stroke="#4f4f4f" stroke-width="1.5" fill="none"/><path d="M783.4 638.6L806.4 661.6M783.4 661.6L806.4 638.6" stroke="#4f4f4f" stroke-width="1.5" fill="none"/><path d="M796.6 670.4L819.6 693.4M796.6 693.4L819.6 670.4" stroke="#4f4f4f" stroke-width="1.5" fill="none"/><path d="M809.7 694.5L832.7 717.5M809.7 717.5L832.7 694.5" stroke="#4f4f4f" stroke-width="1.5" fill="none"/><path d="M822.8 711.5L845.8 734.5M822.8 734.5L845.8 711.5" stroke="#4f4f4f" stroke-width="1.5" fill="none"/><path d="M835.9 722.5L858.9 745.5M835.9 745.5L858.9 722.5" stroke="#4f4f4f" stroke-width="1.5" fill="none"/><path d="M849 728.5L872 751.5M849 751.5L872 728.5" stroke="#4f4f4f" stroke-width="1.5" fill="none"/><path d="M862.2 731.5L885.2 754.5M862.2 754.5L885.2 731.5" stroke="#4f4f4f" stroke-width="1.5" fill="none"/><path d="M875.3 732.8L898.3 755.8M875.3 755.8L898.3 732.8" stroke="#4f4f4f" stroke-width="1.5" fill="none"/><path d="M888.4 733L911.4 756M888.4 756L911.4 733" stroke="#4f4f4f" stroke-width="1.5" fill="none"/><path d="M901.5 732.8L924.5 755.8M901.5 755.8L924.5 732.8" stroke="#4f4f4f" stroke-width="1.5" fill="none"/><path d="M914.6 732L937.6 755M914.6 755L937.6 732" stroke="#4f4f4f" stroke-width="1.5" fill="none"/><path d="M927.8 731.1L950.8 754.1M927.8 754.1L950.8 731.1" stroke="#4f4f4f" stroke-width="1.5" fill="none"/><path d="M940.9 730.2L963.9 753.2M940.9 753.2L963.9 730.2" stroke="#4f4f4f" stroke-width="1.5" fill="none"/><path d="M954 729.3L977 752.3M954 752.3L977 729.3" stroke="#4f4f4f" stroke-width="1.5" fill="none"/><path d="M967.1 728.5L990.1 751.5M967.1 751.5L990.1 728.5" stroke="#4f4f4f" stroke-width="1.5" fill="none"/><path d="M980.2 727.9L1003.2 750.9M980.2 750.9L1003.2 727.9" stroke="#4f4f4f" stroke-width="1.5" fill="none"/><path d="M993.4 727.2L1016.4 750.2M993.4 750.2L1016.4 727.2" stroke="#4f4f4f" stroke-width="1.5" fill="none"/></g>
</g>
<g stroke="#000" fill="none" stroke-linecap="butt">
<path d="M204.3 61.3H1432.3V976.8" stroke-width="3.9" stroke-linejoin="round"/>
<path d="M204.3 61.3V958.3" stroke-width="3.9"/>
<path d="M184.3 958.3H1432.3" stroke-width="3.9"/>
<path d="M184.3 61.3H204.3" stroke-width="3.9"/>
<path d="M184.3 120H204.3" stroke-width="3.3"/>
<path d="M184.3 178.6H204.3" stroke-width="3.3"/>
<path d="M184.3 237.1H204.3" stroke-width="3.3"/>
<path d="M184.3 295.6H204.3" stroke-width="3.3"/>
<path d="M184.3 354.2H204.3" stroke-width="3.3"/>
<path d="M184.3 452.8H204.3" stroke-width="3.3"/>
<path d="M184.3 516.6H204.3" stroke-width="3.3"/>
<path d="M184.3 580.4H204.3" stroke-width="3.3"/>
<path d="M184.3 644.2H204.3" stroke-width="3.3"/>
<path d="M184.3 708.1H204.3" stroke-width="3.3"/>
<path d="M184.3 771.9H204.3" stroke-width="3.3"/>
<path d="M184.3 892.4H204.3" stroke-width="3.3"/>
<path d="M194.3 90.8H204.3" stroke-width="3.3"/>
<path d="M194.3 149.3H204.3" stroke-width="3.3"/>
<path d="M194.3 207.8H204.3" stroke-width="3.3"/>
<path d="M194.3 266.4H204.3" stroke-width="3.3"/>
<path d="M194.3 324.9H204.3" stroke-width="3.3"/>
<path d="M194.3 383.4H204.3" stroke-width="3.3"/>
<path d="M194.3 484.7H204.3" stroke-width="3.3"/>
<path d="M194.3 548.5H204.3" stroke-width="3.3"/>
<path d="M194.3 612.3H204.3" stroke-width="3.3"/>
<path d="M194.3 676.1H204.3" stroke-width="3.3"/>
<path d="M194.3 740H204.3" stroke-width="3.3"/>
<path d="M194.3 803.8H204.3" stroke-width="3.3"/>
<path d="M194.3 859.6H204.3" stroke-width="3.3"/>
<path d="M194.3 925.2H204.3" stroke-width="3.3"/>
<path d="M267.5 958.3V976.8" stroke-width="3.3"/>
<path d="M371.2 958.3V976.8" stroke-width="3.3"/>
<path d="M474.8 958.3V976.8" stroke-width="3.3"/>
<path d="M578.5 958.3V976.8" stroke-width="3.3"/>
<path d="M703.1 958.3V976.8" stroke-width="3.3"/>
<path d="M788.3 958.3V976.8" stroke-width="3.3"/>
<path d="M873.5 958.3V976.8" stroke-width="3.3"/>
<path d="M958.7 958.3V976.8" stroke-width="3.3"/>
<path d="M1118 958.3V976.8" stroke-width="3.3"/>
<path d="M1222.7 958.3V976.8" stroke-width="3.3"/>
<path d="M1327.3 958.3V976.8" stroke-width="3.3"/>
<path d="M215.7 958.3V967.8" stroke-width="3.3"/>
<path d="M319.3 958.3V967.8" stroke-width="3.3"/>
<path d="M423 958.3V967.8" stroke-width="3.3"/>
<path d="M526.7 958.3V967.8" stroke-width="3.3"/>
<path d="M660.5 958.3V967.8" stroke-width="3.3"/>
<path d="M745.7 958.3V967.8" stroke-width="3.3"/>
<path d="M830.9 958.3V967.8" stroke-width="3.3"/>
<path d="M916.1 958.3V967.8" stroke-width="3.3"/>
<path d="M1065.7 958.3V967.8" stroke-width="3.3"/>
<path d="M1170.3 958.3V967.8" stroke-width="3.3"/>
<path d="M1275 958.3V967.8" stroke-width="3.3"/>
<path d="M1379.7 958.3V967.8" stroke-width="3.3"/>
</g>
<rect x="201.3" y="413" width="6" height="15" fill="#fff"/>
<rect x="201.3" y="817" width="6" height="14.5" fill="#fff"/>
<g stroke="#000" stroke-width="3.1" fill="none">
<path d="M185 420.6L223 404.6"/>
<path d="M185 436.4L223 420.4"/>
<path d="M185 824.0L223 808.0"/>
<path d="M185 840.2L223 824.2"/>
<path d="M611.3 975.9L633.5 940.9" stroke-width="3.5"/>
<path d="M633 975.9L655.2 940.9" stroke-width="3.5"/>
<path d="M980.5 975.9L1002.7 940.9" stroke-width="3.5"/>
<path d="M1001.5 975.9L1023.7 940.9" stroke-width="3.5"/>
</g>
<g font-size="41.2" text-anchor="end">
<text x="171" y="74.3">8.1</text>
<text x="171" y="132.8">7.8</text>
<text x="171" y="191.4">7.5</text>
<text x="171" y="249.9">7.2</text>
<text x="171" y="308.4">6.9</text>
<text x="171" y="367">6.6</text>
<text x="171" y="465.6">1.61</text>
<text x="171" y="529.4">1.38</text>
<text x="171" y="593.2">1.15</text>
<text x="171" y="657">0.92</text>
<text x="171" y="720.9">0.69</text>
<text x="171" y="784.7">0.46</text>
<text x="171" y="905.2">0.13</text>
<text x="171" y="970.8">0.00</text>
</g>
<g font-size="41.2" text-anchor="middle">
<text x="267.5" y="1018.3">273</text>
<text x="371.2" y="1018.3">294</text>
<text x="474.8" y="1018.3">315</text>
<text x="578.5" y="1018.3">336</text>
<text x="703.1" y="1018.3">585</text>
<text x="788.3" y="1018.3">598</text>
<text x="873.5" y="1018.3">611</text>
<text x="958.7" y="1018.3">624</text>
<text x="1118" y="1018.3">740</text>
<text x="1222.7" y="1018.3">760</text>
<text x="1327.3" y="1018.3">780</text>
<text x="1432" y="1018.3">800</text>
</g>
<text x="819" y="1089.3" font-size="46.5" text-anchor="middle" textLength="392" lengthAdjust="spacingAndGlyphs">Wavelength (nm)</text>
<text transform="translate(68.3 510.3) rotate(-90)" font-size="50" text-anchor="middle" textLength="248" lengthAdjust="spacingAndGlyphs">Absorbance</text>
<rect x="851.2" y="134" width="736.6" height="232" fill="#fff" stroke="#8c8c8c" stroke-width="1.8"/>
<g filter="url(#bl)">
<path d="M856.8 155.0H933.6" stroke="#4f4f4f" stroke-width="10.2" stroke-linecap="round"/>
<rect x="884.2" y="144.8" width="20.5" height="20.5" fill="#4f4f4f"/>
<path d="M856.8 193.3H933.6" stroke="#00cfd2" stroke-width="10.2" stroke-linecap="round"/>
<path d="M884.8 180.3L907.5 193.3L884.8 206.3Z" fill="#00cfd2"/>
<path d="M856.8 231.2H933.6" stroke="#8a8a00" stroke-width="10.2" stroke-linecap="round"/>
<polygon points="894.5,217.7 898.2,226.2 907.3,227 900.4,233.1 902.4,242.1 894.5,237.4 886.6,242.1 888.6,233.1 881.7,227 890.8,226.2" fill="#8a8a00"/>
<path d="M856.8 269.0H933.6" stroke="#4797d3" stroke-width="10.2" stroke-linecap="round"/>
<circle cx="894.5" cy="269" r="10.3" fill="#4797d3"/><circle cx="891.6" cy="266.4" r="4.8" fill="#fff" fill-opacity=".42"/><circle cx="891.6" cy="266.4" r="2.9" fill="#fff"/>
<path d="M856.8 307.0H933.6" stroke="#2fb500" stroke-width="10.2" stroke-linecap="round"/>
<path d="M883.5 307H905.5M894.5 296V318" stroke="#2fb500" stroke-width="1.5" fill="none"/>
<path d="M856.8 345.2H933.6" stroke="#4f4f4f" stroke-width="10.2" stroke-linecap="round"/>
<path d="M882 332.7L907 357.7M882 357.7L907 332.7" stroke="#4f4f4f" stroke-width="1.5" fill="none"/>
</g>
<g font-size="32.4">
<text x="942" y="165.4" textLength="639.1" lengthAdjust="spacingAndGlyphs">AuCoated_SiO2004 - log(1/R) transformed</text>
<text x="942" y="203.7" textLength="582.9" lengthAdjust="spacingAndGlyphs">AuCoated_SiO2 - log(1/R) transformed</text>
<text x="942" y="241.6" textLength="564.1" lengthAdjust="spacingAndGlyphs">AuCoatedSiO2 - log(1/R) transformed</text>
<text x="942" y="279.4" textLength="584.7" lengthAdjust="spacingAndGlyphs">AuColloidalSiO2 - log(1/R) transformed</text>
<text x="942" y="317.4" textLength="414.1" lengthAdjust="spacingAndGlyphs">SiO2 - log(1/R) transformed</text>
<text x="942" y="355.6" textLength="597.8" lengthAdjust="spacingAndGlyphs">Silicon Chip Gold - log(1/R) transformed</text>
</g>
</g>
</svg></body></html>
